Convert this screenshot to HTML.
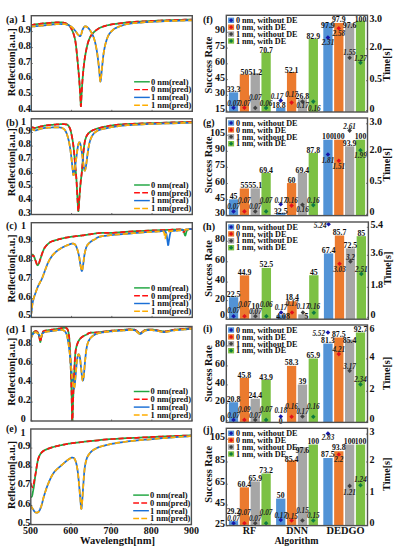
<!DOCTYPE html>
<html><head><meta charset="utf-8"><title>figure</title>
<style>
html,body{margin:0;padding:0;background:#fff;width:398px;height:550px;overflow:hidden}
svg{display:block}
text{font-family:"Liberation Serif",serif}
</style></head><body>
<svg width="398" height="550" viewBox="0 0 398 550">
<rect x="0" y="0" width="398" height="550" fill="#fff"/>
<clipPath id="cl0"><rect x="31.30" y="15.70" width="161.00" height="95.60"/></clipPath>
<g clip-path="url(#cl0)">
<path d="M30.50,25.10 31.08,25.01 31.84,24.90 32.74,24.75 33.75,24.60 34.82,24.44 35.91,24.28 36.99,24.13 38.00,24.00 38.97,23.88 39.94,23.78 40.92,23.67 41.91,23.57 42.90,23.48 43.92,23.39 44.95,23.29 46.00,23.20 47.10,23.10 48.25,23.00 49.43,22.90 50.62,22.81 51.80,22.71 52.94,22.63 54.01,22.56 55.00,22.50 55.91,22.45 56.76,22.42 57.56,22.39 58.31,22.37 59.03,22.36 59.71,22.36 60.37,22.37 61.00,22.40 61.60,22.43 62.16,22.48 62.69,22.53 63.19,22.59 63.66,22.67 64.12,22.76 64.56,22.87 65.00,23.00 65.43,23.15 65.84,23.32 66.24,23.51 66.62,23.72 66.99,23.93 67.34,24.16 67.68,24.38 68.00,24.60 68.30,24.82 68.58,25.04 68.85,25.26 69.09,25.49 69.33,25.73 69.56,25.98 69.78,26.23 70.00,26.50 70.21,26.77 70.40,27.02 70.57,27.28 70.74,27.56 70.92,27.85 71.09,28.19 71.29,28.56 71.50,29.00 71.74,29.48 71.99,30.00 72.25,30.56 72.53,31.16 72.80,31.80 73.07,32.48 73.34,33.21 73.60,34.00 73.85,34.80 74.09,35.60 74.33,36.43 74.57,37.31 74.80,38.28 75.04,39.37 75.27,40.60 75.50,42.00 75.73,43.59 75.96,45.34 76.18,47.24 76.41,49.25 76.63,51.36 76.85,53.53 77.08,55.75 77.30,58.00 77.53,60.32 77.76,62.77 78.00,65.29 78.24,67.88 78.47,70.47 78.69,73.05 78.90,75.57 79.10,78.00 79.28,80.40 79.46,82.82 79.62,85.24 79.77,87.61 79.92,89.91 80.06,92.10 80.18,94.14 80.30,96.00 80.40,97.79 80.49,99.58 80.57,101.29 80.64,102.86 80.70,104.21 80.76,105.27 80.83,105.95 80.90,106.20 80.97,105.94 81.04,105.22 81.11,104.12 81.18,102.74 81.25,101.15 81.32,99.44 81.41,97.69 81.50,96.00 81.60,94.26 81.71,92.36 81.83,90.34 81.96,88.24 82.09,86.11 82.22,84.00 82.36,81.94 82.50,80.00 82.65,78.14 82.79,76.31 82.95,74.52 83.11,72.75 83.27,71.02 83.44,69.31 83.62,67.64 83.80,66.00 83.99,64.40 84.17,62.86 84.36,61.35 84.56,59.88 84.77,58.41 85.00,56.95 85.24,55.49 85.50,54.00 85.78,52.47 86.08,50.89 86.40,49.30 86.73,47.72 87.08,46.17 87.44,44.68 87.81,43.28 88.20,42.00 88.59,40.83 88.97,39.77 89.36,38.78 89.77,37.86 90.21,36.98 90.68,36.14 91.21,35.32 91.80,34.50 92.46,33.68 93.18,32.89 93.96,32.11 94.77,31.37 95.61,30.66 96.47,29.99 97.34,29.37 98.20,28.80 99.06,28.29 99.92,27.83 100.80,27.42 101.69,27.06 102.60,26.72 103.53,26.40 104.50,26.10 105.50,25.80 106.50,25.52 107.48,25.27 108.46,25.04 109.49,24.83 110.57,24.62 111.75,24.42 113.05,24.22 114.50,24.00 116.10,23.77 117.81,23.54 119.64,23.30 121.56,23.06 123.57,22.83 125.66,22.61 127.80,22.40 130.00,22.20 132.28,22.02 134.68,21.85 137.17,21.69 139.72,21.54 142.30,21.39 144.89,21.26 147.47,21.13 150.00,21.00 152.49,20.88 154.96,20.77 157.43,20.67 159.90,20.57 162.38,20.48 164.89,20.38 167.42,20.29 170.00,20.20 172.75,20.10 175.74,20.00 178.83,19.90 181.90,19.80 184.84,19.71 187.51,19.63 189.81,19.56 191.60,19.50 192.84,19.46 193.61,19.44 194.01,19.43 194.15,19.43 194.12,19.44 194.02,19.45 193.95,19.45 194.00,19.45" fill="none" stroke="#1fa640" stroke-width="1.75" stroke-linejoin="round"/>
<path d="M30.50,25.10 31.08,25.01 31.84,24.90 32.74,24.75 33.75,24.60 34.82,24.44 35.91,24.28 36.99,24.13 38.00,24.00 38.97,23.88 39.94,23.78 40.92,23.67 41.91,23.57 42.90,23.48 43.92,23.39 44.95,23.29 46.00,23.20 47.10,23.10 48.25,23.00 49.43,22.90 50.62,22.81 51.80,22.71 52.94,22.63 54.01,22.56 55.00,22.50 55.91,22.45 56.76,22.42 57.56,22.39 58.31,22.37 59.03,22.36 59.71,22.36 60.37,22.37 61.00,22.40 61.60,22.43 62.16,22.48 62.69,22.53 63.19,22.59 63.66,22.67 64.12,22.76 64.56,22.87 65.00,23.00 65.43,23.15 65.84,23.32 66.24,23.51 66.62,23.72 66.99,23.93 67.34,24.16 67.68,24.38 68.00,24.60 68.30,24.82 68.58,25.04 68.85,25.26 69.09,25.49 69.33,25.73 69.56,25.98 69.78,26.23 70.00,26.50 70.21,26.77 70.40,27.02 70.57,27.28 70.74,27.56 70.92,27.85 71.09,28.19 71.29,28.56 71.50,29.00 71.74,29.48 71.99,30.00 72.25,30.56 72.53,31.16 72.80,31.80 73.07,32.48 73.34,33.21 73.60,34.00 73.85,34.80 74.09,35.60 74.33,36.43 74.57,37.31 74.80,38.28 75.04,39.37 75.27,40.60 75.50,42.00 75.73,43.59 75.96,45.34 76.18,47.24 76.41,49.25 76.63,51.36 76.85,53.53 77.08,55.75 77.30,58.00 77.53,60.32 77.76,62.77 78.00,65.29 78.24,67.88 78.47,70.47 78.69,73.05 78.90,75.57 79.10,78.00 79.28,80.40 79.46,82.82 79.62,85.24 79.77,87.61 79.92,89.91 80.06,92.10 80.18,94.14 80.30,96.00 80.40,97.79 80.49,99.58 80.57,101.29 80.64,102.86 80.70,104.21 80.76,105.27 80.83,105.95 80.90,106.20 80.97,105.94 81.04,105.22 81.11,104.12 81.18,102.74 81.25,101.15 81.32,99.44 81.41,97.69 81.50,96.00 81.60,94.26 81.71,92.36 81.83,90.34 81.96,88.24 82.09,86.11 82.22,84.00 82.36,81.94 82.50,80.00 82.65,78.14 82.79,76.31 82.95,74.52 83.11,72.75 83.27,71.02 83.44,69.31 83.62,67.64 83.80,66.00 83.99,64.40 84.17,62.86 84.36,61.35 84.56,59.88 84.77,58.41 85.00,56.95 85.24,55.49 85.50,54.00 85.78,52.47 86.08,50.89 86.40,49.30 86.73,47.72 87.08,46.17 87.44,44.68 87.81,43.28 88.20,42.00 88.59,40.83 88.97,39.77 89.36,38.78 89.77,37.86 90.21,36.98 90.68,36.14 91.21,35.32 91.80,34.50 92.46,33.68 93.18,32.89 93.96,32.11 94.77,31.37 95.61,30.66 96.47,29.99 97.34,29.37 98.20,28.80 99.06,28.29 99.92,27.83 100.80,27.42 101.69,27.06 102.60,26.72 103.53,26.40 104.50,26.10 105.50,25.80 106.50,25.52 107.48,25.27 108.46,25.04 109.49,24.83 110.57,24.62 111.75,24.42 113.05,24.22 114.50,24.00 116.10,23.77 117.81,23.54 119.64,23.30 121.56,23.06 123.57,22.83 125.66,22.61 127.80,22.40 130.00,22.20 132.28,22.02 134.68,21.85 137.17,21.69 139.72,21.54 142.30,21.39 144.89,21.26 147.47,21.13 150.00,21.00 152.49,20.88 154.96,20.77 157.43,20.67 159.90,20.57 162.38,20.48 164.89,20.38 167.42,20.29 170.00,20.20 172.75,20.10 175.74,20.00 178.83,19.90 181.90,19.80 184.84,19.71 187.51,19.63 189.81,19.56 191.60,19.50 192.84,19.46 193.61,19.44 194.01,19.43 194.15,19.43 194.12,19.44 194.02,19.45 193.95,19.45 194.00,19.45" fill="none" stroke="#ff1010" stroke-width="1.75" stroke-linejoin="round" stroke-dasharray="5.2 2.8"/>
<path d="M30.50,26.70 31.08,26.65 31.84,26.58 32.74,26.49 33.75,26.40 34.82,26.30 35.91,26.20 36.99,26.10 38.00,26.00 38.97,25.91 39.94,25.81 40.92,25.71 41.91,25.61 42.90,25.51 43.92,25.41 44.95,25.31 46.00,25.20 47.10,25.09 48.25,24.97 49.43,24.84 50.62,24.72 51.80,24.60 52.94,24.49 54.01,24.38 55.00,24.30 55.90,24.23 56.73,24.17 57.51,24.11 58.25,24.07 58.96,24.03 59.64,24.01 60.32,24.00 61.00,24.00 61.67,24.00 62.32,24.01 62.95,24.02 63.56,24.05 64.17,24.09 64.77,24.16 65.38,24.26 66.00,24.40 66.63,24.57 67.27,24.76 67.92,24.98 68.56,25.22 69.20,25.50 69.82,25.80 70.42,26.13 71.00,26.50 71.55,26.91 72.09,27.37 72.62,27.86 73.12,28.38 73.62,28.92 74.09,29.46 74.55,29.99 75.00,30.50 75.43,31.02 75.84,31.55 76.24,32.10 76.62,32.64 76.99,33.17 77.34,33.66 77.68,34.11 78.00,34.50 78.30,34.85 78.59,35.18 78.85,35.48 79.11,35.74 79.35,35.95 79.57,36.10 79.79,36.19 80.00,36.20 80.19,36.13 80.37,35.99 80.53,35.77 80.68,35.51 80.83,35.19 80.98,34.82 81.13,34.43 81.30,34.00 81.47,33.51 81.64,32.94 81.82,32.30 81.99,31.64 82.18,30.97 82.37,30.32 82.58,29.72 82.80,29.20 83.04,28.73 83.29,28.27 83.55,27.83 83.82,27.42 84.10,27.07 84.39,26.77 84.69,26.54 85.00,26.40 85.32,26.34 85.66,26.37 86.01,26.46 86.37,26.61 86.73,26.81 87.09,27.05 87.45,27.32 87.80,27.60 88.14,27.90 88.47,28.23 88.81,28.60 89.14,29.00 89.47,29.44 89.81,29.92 90.15,30.44 90.50,31.00 90.87,31.62 91.25,32.29 91.65,33.02 92.04,33.77 92.44,34.56 92.81,35.37 93.17,36.18 93.50,37.00 93.80,37.81 94.07,38.61 94.33,39.42 94.58,40.25 94.81,41.11 95.04,42.02 95.27,42.97 95.50,44.00 95.74,45.08 95.97,46.20 96.19,47.35 96.42,48.56 96.64,49.83 96.86,51.15 97.08,52.54 97.30,54.00 97.52,55.56 97.74,57.23 97.96,58.98 98.17,60.78 98.39,62.61 98.60,64.44 98.80,66.25 99.00,68.00 99.19,69.88 99.37,72.00 99.55,74.20 99.72,76.34 99.89,78.29 100.06,79.89 100.23,81.01 100.40,81.50 100.57,81.28 100.75,80.46 100.92,79.17 101.09,77.53 101.26,75.67 101.44,73.71 101.62,71.78 101.80,70.00 101.99,68.26 102.18,66.38 102.38,64.41 102.58,62.41 102.78,60.41 102.98,58.48 103.19,56.66 103.40,55.00 103.61,53.49 103.82,52.09 104.04,50.77 104.26,49.53 104.48,48.35 104.71,47.21 104.95,46.10 105.20,45.00 105.46,43.92 105.74,42.88 106.02,41.87 106.31,40.91 106.60,39.98 106.90,39.11 107.20,38.28 107.50,37.50 107.79,36.79 108.06,36.16 108.33,35.58 108.61,35.04 108.91,34.53 109.23,34.03 109.59,33.53 110.00,33.00 110.45,32.45 110.92,31.91 111.42,31.36 111.95,30.82 112.52,30.29 113.13,29.77 113.79,29.28 114.50,28.80 115.27,28.34 116.11,27.90 116.99,27.47 117.92,27.06 118.87,26.67 119.85,26.29 120.83,25.94 121.80,25.60 122.74,25.29 123.63,25.00 124.51,24.74 125.42,24.49 126.39,24.25 127.45,24.03 128.64,23.81 130.00,23.60 131.52,23.39 133.15,23.20 134.91,23.01 136.76,22.84 138.71,22.67 140.74,22.51 142.84,22.35 145.00,22.20 147.22,22.06 149.49,21.92 151.84,21.79 154.28,21.67 156.80,21.55 159.42,21.43 162.15,21.32 165.00,21.20 168.17,21.08 171.75,20.95 175.56,20.82 179.40,20.69 183.11,20.57 186.50,20.46 189.39,20.37 191.60,20.30 193.07,20.25 193.96,20.23 194.38,20.22 194.46,20.22 194.34,20.23 194.14,20.24 193.98,20.25 194.00,20.25" fill="none" stroke="#1a6fd6" stroke-width="1.75" stroke-linejoin="round"/>
<path d="M30.50,26.70 31.08,26.65 31.84,26.58 32.74,26.49 33.75,26.40 34.82,26.30 35.91,26.20 36.99,26.10 38.00,26.00 38.97,25.91 39.94,25.81 40.92,25.71 41.91,25.61 42.90,25.51 43.92,25.41 44.95,25.31 46.00,25.20 47.10,25.09 48.25,24.97 49.43,24.84 50.62,24.72 51.80,24.60 52.94,24.49 54.01,24.38 55.00,24.30 55.90,24.23 56.73,24.17 57.51,24.11 58.25,24.07 58.96,24.03 59.64,24.01 60.32,24.00 61.00,24.00 61.67,24.00 62.32,24.01 62.95,24.02 63.56,24.05 64.17,24.09 64.77,24.16 65.38,24.26 66.00,24.40 66.63,24.57 67.27,24.76 67.92,24.98 68.56,25.22 69.20,25.50 69.82,25.80 70.42,26.13 71.00,26.50 71.55,26.91 72.09,27.37 72.62,27.86 73.12,28.38 73.62,28.92 74.09,29.46 74.55,29.99 75.00,30.50 75.43,31.02 75.84,31.55 76.24,32.10 76.62,32.64 76.99,33.17 77.34,33.66 77.68,34.11 78.00,34.50 78.30,34.85 78.59,35.18 78.85,35.48 79.11,35.74 79.35,35.95 79.57,36.10 79.79,36.19 80.00,36.20 80.19,36.13 80.37,35.99 80.53,35.77 80.68,35.51 80.83,35.19 80.98,34.82 81.13,34.43 81.30,34.00 81.47,33.51 81.64,32.94 81.82,32.30 81.99,31.64 82.18,30.97 82.37,30.32 82.58,29.72 82.80,29.20 83.04,28.73 83.29,28.27 83.55,27.83 83.82,27.42 84.10,27.07 84.39,26.77 84.69,26.54 85.00,26.40 85.32,26.34 85.66,26.37 86.01,26.46 86.37,26.61 86.73,26.81 87.09,27.05 87.45,27.32 87.80,27.60 88.14,27.90 88.47,28.23 88.81,28.60 89.14,29.00 89.47,29.44 89.81,29.92 90.15,30.44 90.50,31.00 90.87,31.62 91.25,32.29 91.65,33.02 92.04,33.77 92.44,34.56 92.81,35.37 93.17,36.18 93.50,37.00 93.80,37.81 94.07,38.61 94.33,39.42 94.58,40.25 94.81,41.11 95.04,42.02 95.27,42.97 95.50,44.00 95.74,45.08 95.97,46.20 96.19,47.35 96.42,48.56 96.64,49.83 96.86,51.15 97.08,52.54 97.30,54.00 97.52,55.56 97.74,57.23 97.96,58.98 98.17,60.78 98.39,62.61 98.60,64.44 98.80,66.25 99.00,68.00 99.19,69.88 99.37,72.00 99.55,74.20 99.72,76.34 99.89,78.29 100.06,79.89 100.23,81.01 100.40,81.50 100.57,81.28 100.75,80.46 100.92,79.17 101.09,77.53 101.26,75.67 101.44,73.71 101.62,71.78 101.80,70.00 101.99,68.26 102.18,66.38 102.38,64.41 102.58,62.41 102.78,60.41 102.98,58.48 103.19,56.66 103.40,55.00 103.61,53.49 103.82,52.09 104.04,50.77 104.26,49.53 104.48,48.35 104.71,47.21 104.95,46.10 105.20,45.00 105.46,43.92 105.74,42.88 106.02,41.87 106.31,40.91 106.60,39.98 106.90,39.11 107.20,38.28 107.50,37.50 107.79,36.79 108.06,36.16 108.33,35.58 108.61,35.04 108.91,34.53 109.23,34.03 109.59,33.53 110.00,33.00 110.45,32.45 110.92,31.91 111.42,31.36 111.95,30.82 112.52,30.29 113.13,29.77 113.79,29.28 114.50,28.80 115.27,28.34 116.11,27.90 116.99,27.47 117.92,27.06 118.87,26.67 119.85,26.29 120.83,25.94 121.80,25.60 122.74,25.29 123.63,25.00 124.51,24.74 125.42,24.49 126.39,24.25 127.45,24.03 128.64,23.81 130.00,23.60 131.52,23.39 133.15,23.20 134.91,23.01 136.76,22.84 138.71,22.67 140.74,22.51 142.84,22.35 145.00,22.20 147.22,22.06 149.49,21.92 151.84,21.79 154.28,21.67 156.80,21.55 159.42,21.43 162.15,21.32 165.00,21.20 168.17,21.08 171.75,20.95 175.56,20.82 179.40,20.69 183.11,20.57 186.50,20.46 189.39,20.37 191.60,20.30 193.07,20.25 193.96,20.23 194.38,20.22 194.46,20.22 194.34,20.23 194.14,20.24 193.98,20.25 194.00,20.25" fill="none" stroke="#ffad00" stroke-width="1.75" stroke-linejoin="round" stroke-dasharray="5.2 2.8"/>
</g>
<rect x="31.30" y="15.70" width="161.00" height="95.60" fill="none" stroke="#505050" stroke-width="1.40"/>
<line x1="31.30" y1="111.30" x2="31.30" y2="109.80" stroke="#505050" stroke-width="0.8"/>
<line x1="71.55" y1="111.30" x2="71.55" y2="109.80" stroke="#505050" stroke-width="0.8"/>
<line x1="111.80" y1="111.30" x2="111.80" y2="109.80" stroke="#505050" stroke-width="0.8"/>
<line x1="152.05" y1="111.30" x2="152.05" y2="109.80" stroke="#505050" stroke-width="0.8"/>
<line x1="192.30" y1="111.30" x2="192.30" y2="109.80" stroke="#505050" stroke-width="0.8"/>
<text x="26.10" y="22.30" font-size="10.00" text-anchor="end" font-weight="bold" font-style="normal" fill="#111">1</text>
<text x="31.00" y="32.60" font-size="10.30" text-anchor="end" font-weight="bold" font-style="normal" fill="#111">0.9</text>
<line x1="31.30" y1="31.60" x2="32.80" y2="31.60" stroke="#505050" stroke-width="0.8"/>
<text x="31.00" y="48.60" font-size="10.30" text-anchor="end" font-weight="bold" font-style="normal" fill="#111">0.8</text>
<line x1="31.30" y1="47.60" x2="32.80" y2="47.60" stroke="#505050" stroke-width="0.8"/>
<text x="31.00" y="64.50" font-size="10.30" text-anchor="end" font-weight="bold" font-style="normal" fill="#111">0.7</text>
<line x1="31.30" y1="63.50" x2="32.80" y2="63.50" stroke="#505050" stroke-width="0.8"/>
<text x="31.00" y="80.40" font-size="10.30" text-anchor="end" font-weight="bold" font-style="normal" fill="#111">0.6</text>
<line x1="31.30" y1="79.40" x2="32.80" y2="79.40" stroke="#505050" stroke-width="0.8"/>
<text x="31.00" y="96.40" font-size="10.30" text-anchor="end" font-weight="bold" font-style="normal" fill="#111">0.5</text>
<line x1="31.30" y1="95.40" x2="32.80" y2="95.40" stroke="#505050" stroke-width="0.8"/>
<text x="31.00" y="112.30" font-size="10.30" text-anchor="end" font-weight="bold" font-style="normal" fill="#111">0.4</text>
<line x1="31.30" y1="111.30" x2="32.80" y2="111.30" stroke="#505050" stroke-width="0.8"/>
<text x="6.00" y="22.50" font-size="10.00" text-anchor="start" font-weight="bold" font-style="normal" fill="#111">(a)</text>
<text x="15.40" y="62.30" font-size="10.40" text-anchor="middle" font-weight="bold" font-style="normal" fill="#111" transform="rotate(-90 15.40 62.30)" textLength="68.00" lengthAdjust="spacingAndGlyphs">Reflection[a.u.]</text>
<line x1="134.10" y1="81.80" x2="149.80" y2="81.80" stroke="#1fa640" stroke-width="1.45"/>
<text x="150.90" y="84.60" font-size="7.90" text-anchor="start" font-weight="bold" font-style="normal" fill="#111" textLength="37.60" lengthAdjust="spacingAndGlyphs">0 nm(real)</text>
<line x1="134.10" y1="89.60" x2="149.80" y2="89.60" stroke="#ff1010" stroke-width="1.45" stroke-dasharray="5.8 2.3"/>
<text x="150.90" y="92.40" font-size="7.90" text-anchor="start" font-weight="bold" font-style="normal" fill="#111" textLength="40.40" lengthAdjust="spacingAndGlyphs">0 nm(pred)</text>
<line x1="134.10" y1="97.40" x2="149.80" y2="97.40" stroke="#1a6fd6" stroke-width="1.45"/>
<text x="150.90" y="100.20" font-size="7.90" text-anchor="start" font-weight="bold" font-style="normal" fill="#111" textLength="37.60" lengthAdjust="spacingAndGlyphs">1 nm(real)</text>
<line x1="134.10" y1="105.20" x2="149.80" y2="105.20" stroke="#ffad00" stroke-width="1.45" stroke-dasharray="5.8 2.3"/>
<text x="150.90" y="108.00" font-size="7.90" text-anchor="start" font-weight="bold" font-style="normal" fill="#111" textLength="40.40" lengthAdjust="spacingAndGlyphs">1 nm(pred)</text>
<clipPath id="cl1"><rect x="31.30" y="118.80" width="161.00" height="95.70"/></clipPath>
<g clip-path="url(#cl1)">
<path d="M30.50,126.60 30.69,126.68 30.95,126.80 31.25,126.94 31.59,127.09 31.95,127.24 32.32,127.38 32.67,127.51 33.00,127.60 33.31,127.67 33.62,127.72 33.94,127.77 34.25,127.80 34.56,127.82 34.88,127.82 35.19,127.82 35.50,127.80 35.80,127.77 36.07,127.72 36.33,127.66 36.59,127.59 36.88,127.50 37.20,127.41 37.57,127.31 38.00,127.20 38.49,127.08 39.03,126.94 39.60,126.79 40.21,126.62 40.86,126.46 41.54,126.30 42.26,126.14 43.00,126.00 43.77,125.86 44.56,125.73 45.38,125.60 46.23,125.47 47.13,125.35 48.06,125.23 49.05,125.11 50.10,125.00 51.25,124.88 52.53,124.76 53.89,124.65 55.28,124.53 56.65,124.43 57.96,124.33 59.16,124.26 60.20,124.20 61.09,124.17 61.87,124.15 62.56,124.15 63.18,124.16 63.73,124.18 64.25,124.21 64.73,124.25 65.20,124.30 65.64,124.35 66.02,124.39 66.35,124.44 66.65,124.50 66.92,124.58 67.18,124.68 67.44,124.82 67.70,125.00 67.96,125.21 68.21,125.45 68.44,125.72 68.66,126.01 68.88,126.34 69.09,126.69 69.29,127.08 69.50,127.50 69.70,127.91 69.88,128.30 70.05,128.70 70.23,129.14 70.40,129.65 70.58,130.28 70.78,131.05 71.00,132.00 71.24,133.12 71.51,134.39 71.79,135.78 72.08,137.29 72.37,138.91 72.66,140.63 72.94,142.43 73.20,144.30 73.45,146.29 73.69,148.44 73.92,150.70 74.14,153.04 74.36,155.42 74.58,157.82 74.79,160.19 75.00,162.50 75.21,164.76 75.41,167.01 75.61,169.26 75.80,171.51 75.99,173.76 76.17,176.02 76.34,178.30 76.50,180.60 76.65,182.97 76.79,185.44 76.92,187.95 77.04,190.45 77.15,192.90 77.27,195.26 77.38,197.48 77.50,199.50 77.62,201.47 77.73,203.49 77.84,205.47 77.96,207.29 78.07,208.88 78.18,210.12 78.29,210.93 78.40,211.20 78.51,210.84 78.62,209.92 78.72,208.54 78.83,206.83 78.93,204.90 79.05,202.88 79.17,200.87 79.30,199.00 79.44,197.15 79.60,195.16 79.76,193.08 79.92,190.96 80.09,188.84 80.27,186.77 80.43,184.81 80.60,183.00 80.76,181.38 80.92,179.93 81.09,178.58 81.25,177.28 81.41,175.98 81.58,174.62 81.74,173.15 81.90,171.50 82.06,169.64 82.23,167.61 82.39,165.46 82.55,163.25 82.71,161.04 82.88,158.89 83.04,156.86 83.20,155.00 83.36,153.29 83.52,151.64 83.68,150.08 83.84,148.59 84.00,147.19 84.16,145.87 84.33,144.64 84.50,143.50 84.68,142.47 84.85,141.55 85.03,140.74 85.21,140.00 85.40,139.33 85.59,138.70 85.79,138.09 86.00,137.50 86.21,136.94 86.41,136.44 86.61,135.98 86.83,135.56 87.05,135.17 87.30,134.78 87.58,134.40 87.90,134.00 88.25,133.60 88.62,133.20 89.03,132.80 89.45,132.42 89.90,132.04 90.38,131.68 90.88,131.33 91.40,131.00 91.98,130.68 92.63,130.36 93.33,130.05 94.04,129.75 94.74,129.47 95.40,129.22 96.00,128.99 96.50,128.80 96.87,128.66 97.11,128.56 97.28,128.51 97.41,128.47 97.56,128.44 97.78,128.39 98.11,128.32 98.60,128.20 99.25,128.04 100.02,127.85 100.88,127.63 101.81,127.41 102.80,127.17 103.83,126.94 104.87,126.71 105.90,126.50 106.95,126.30 108.03,126.09 109.14,125.89 110.28,125.69 111.44,125.50 112.62,125.32 113.81,125.15 115.00,125.00 116.10,124.87 117.09,124.76 118.02,124.66 119.01,124.57 120.11,124.48 121.42,124.40 123.03,124.30 125.00,124.20 127.29,124.09 129.81,123.97 132.55,123.85 135.53,123.73 138.75,123.61 142.23,123.48 145.98,123.34 150.00,123.20 154.67,123.04 160.15,122.87 166.11,122.68 172.21,122.49 178.14,122.31 183.57,122.14 188.16,122.00 191.60,121.90 193.79,121.83 195.01,121.80 195.48,121.79 195.40,121.79 195.00,121.81 194.49,121.83 194.08,121.85 194.00,121.85" fill="none" stroke="#1fa640" stroke-width="1.75" stroke-linejoin="round"/>
<path d="M30.50,126.60 30.69,126.68 30.95,126.80 31.25,126.94 31.59,127.09 31.95,127.24 32.32,127.38 32.67,127.51 33.00,127.60 33.31,127.67 33.62,127.72 33.94,127.77 34.25,127.80 34.56,127.82 34.88,127.82 35.19,127.82 35.50,127.80 35.80,127.77 36.07,127.72 36.33,127.66 36.59,127.59 36.88,127.50 37.20,127.41 37.57,127.31 38.00,127.20 38.49,127.08 39.03,126.94 39.60,126.79 40.21,126.62 40.86,126.46 41.54,126.30 42.26,126.14 43.00,126.00 43.77,125.86 44.56,125.73 45.38,125.60 46.23,125.47 47.13,125.35 48.06,125.23 49.05,125.11 50.10,125.00 51.25,124.88 52.53,124.76 53.89,124.65 55.28,124.53 56.65,124.43 57.96,124.33 59.16,124.26 60.20,124.20 61.09,124.17 61.87,124.15 62.56,124.15 63.18,124.16 63.73,124.18 64.25,124.21 64.73,124.25 65.20,124.30 65.64,124.35 66.02,124.39 66.35,124.44 66.65,124.50 66.92,124.58 67.18,124.68 67.44,124.82 67.70,125.00 67.96,125.21 68.21,125.45 68.44,125.72 68.66,126.01 68.88,126.34 69.09,126.69 69.29,127.08 69.50,127.50 69.70,127.91 69.88,128.30 70.05,128.70 70.23,129.14 70.40,129.65 70.58,130.28 70.78,131.05 71.00,132.00 71.24,133.12 71.51,134.39 71.79,135.78 72.08,137.29 72.37,138.91 72.66,140.63 72.94,142.43 73.20,144.30 73.45,146.29 73.69,148.44 73.92,150.70 74.14,153.04 74.36,155.42 74.58,157.82 74.79,160.19 75.00,162.50 75.21,164.76 75.41,167.01 75.61,169.26 75.80,171.51 75.99,173.76 76.17,176.02 76.34,178.30 76.50,180.60 76.65,182.97 76.79,185.44 76.92,187.95 77.04,190.45 77.15,192.90 77.27,195.26 77.38,197.48 77.50,199.50 77.62,201.47 77.73,203.49 77.84,205.47 77.96,207.29 78.07,208.88 78.18,210.12 78.29,210.93 78.40,211.20 78.51,210.84 78.62,209.92 78.72,208.54 78.83,206.83 78.93,204.90 79.05,202.88 79.17,200.87 79.30,199.00 79.44,197.15 79.60,195.16 79.76,193.08 79.92,190.96 80.09,188.84 80.27,186.77 80.43,184.81 80.60,183.00 80.76,181.38 80.92,179.93 81.09,178.58 81.25,177.28 81.41,175.98 81.58,174.62 81.74,173.15 81.90,171.50 82.06,169.64 82.23,167.61 82.39,165.46 82.55,163.25 82.71,161.04 82.88,158.89 83.04,156.86 83.20,155.00 83.36,153.29 83.52,151.64 83.68,150.08 83.84,148.59 84.00,147.19 84.16,145.87 84.33,144.64 84.50,143.50 84.68,142.47 84.85,141.55 85.03,140.74 85.21,140.00 85.40,139.33 85.59,138.70 85.79,138.09 86.00,137.50 86.21,136.94 86.41,136.44 86.61,135.98 86.83,135.56 87.05,135.17 87.30,134.78 87.58,134.40 87.90,134.00 88.25,133.60 88.62,133.20 89.03,132.80 89.45,132.42 89.90,132.04 90.38,131.68 90.88,131.33 91.40,131.00 91.98,130.68 92.63,130.36 93.33,130.05 94.04,129.75 94.74,129.47 95.40,129.22 96.00,128.99 96.50,128.80 96.87,128.66 97.11,128.56 97.28,128.51 97.41,128.47 97.56,128.44 97.78,128.39 98.11,128.32 98.60,128.20 99.25,128.04 100.02,127.85 100.88,127.63 101.81,127.41 102.80,127.17 103.83,126.94 104.87,126.71 105.90,126.50 106.95,126.30 108.03,126.09 109.14,125.89 110.28,125.69 111.44,125.50 112.62,125.32 113.81,125.15 115.00,125.00 116.10,124.87 117.09,124.76 118.02,124.66 119.01,124.57 120.11,124.48 121.42,124.40 123.03,124.30 125.00,124.20 127.29,124.09 129.81,123.97 132.55,123.85 135.53,123.73 138.75,123.61 142.23,123.48 145.98,123.34 150.00,123.20 154.67,123.04 160.15,122.87 166.11,122.68 172.21,122.49 178.14,122.31 183.57,122.14 188.16,122.00 191.60,121.90 193.79,121.83 195.01,121.80 195.48,121.79 195.40,121.79 195.00,121.81 194.49,121.83 194.08,121.85 194.00,121.85" fill="none" stroke="#ff1010" stroke-width="1.75" stroke-linejoin="round" stroke-dasharray="5.2 2.8"/>
<path d="M30.50,128.30 30.69,128.40 30.95,128.55 31.25,128.71 31.59,128.90 31.95,129.09 32.32,129.28 32.67,129.45 33.00,129.60 33.31,129.73 33.62,129.87 33.94,130.01 34.25,130.13 34.56,130.24 34.88,130.32 35.19,130.38 35.50,130.40 35.80,130.38 36.09,130.32 36.37,130.23 36.66,130.13 36.95,130.00 37.27,129.87 37.62,129.73 38.00,129.60 38.41,129.47 38.85,129.32 39.30,129.16 39.78,128.99 40.29,128.83 40.82,128.67 41.39,128.53 42.00,128.40 42.65,128.29 43.34,128.18 44.06,128.08 44.81,127.99 45.59,127.91 46.38,127.84 47.19,127.76 48.00,127.70 48.84,127.64 49.73,127.59 50.64,127.54 51.56,127.50 52.48,127.47 53.37,127.44 54.21,127.42 55.00,127.40 55.73,127.39 56.44,127.38 57.11,127.37 57.75,127.38 58.36,127.39 58.94,127.41 59.48,127.45 60.00,127.50 60.47,127.56 60.90,127.63 61.29,127.70 61.66,127.79 62.00,127.90 62.33,128.04 62.66,128.20 63.00,128.40 63.34,128.63 63.67,128.87 64.00,129.15 64.31,129.44 64.62,129.77 64.92,130.14 65.21,130.55 65.50,131.00 65.77,131.49 66.04,132.00 66.29,132.55 66.53,133.14 66.77,133.78 67.01,134.46 67.25,135.20 67.50,136.00 67.75,136.86 68.01,137.76 68.26,138.72 68.52,139.73 68.77,140.79 69.02,141.91 69.26,143.08 69.50,144.30 69.73,145.59 69.95,146.96 70.17,148.38 70.39,149.86 70.60,151.37 70.80,152.90 71.00,154.45 71.20,156.00 71.39,157.61 71.59,159.32 71.77,161.08 71.96,162.84 72.13,164.57 72.30,166.20 72.46,167.69 72.60,169.00 72.73,170.17 72.84,171.27 72.93,172.28 73.02,173.18 73.10,173.94 73.19,174.54 73.29,174.97 73.40,175.20 73.52,175.23 73.64,175.09 73.76,174.77 73.89,174.30 74.02,173.68 74.17,172.91 74.33,172.02 74.50,171.00 74.69,169.79 74.90,168.35 75.13,166.73 75.36,164.99 75.60,163.19 75.84,161.39 76.08,159.64 76.30,158.00 76.52,156.40 76.74,154.74 76.95,153.06 77.17,151.42 77.38,149.85 77.59,148.39 77.80,147.10 78.00,146.00 78.20,145.08 78.39,144.29 78.58,143.64 78.76,143.11 78.95,142.71 79.13,142.44 79.31,142.30 79.50,142.30 79.69,142.44 79.87,142.74 80.06,143.17 80.24,143.73 80.43,144.41 80.62,145.19 80.81,146.05 81.00,147.00 81.20,148.08 81.40,149.33 81.60,150.71 81.81,152.17 82.01,153.67 82.21,155.17 82.41,156.63 82.60,158.00 82.79,159.35 82.97,160.75 83.16,162.16 83.34,163.54 83.51,164.85 83.68,166.06 83.85,167.12 84.00,168.00 84.14,168.72 84.27,169.34 84.39,169.84 84.51,170.23 84.62,170.48 84.74,170.60 84.86,170.57 85.00,170.40 85.15,170.07 85.29,169.57 85.45,168.93 85.61,168.16 85.77,167.27 85.94,166.27 86.12,165.18 86.30,164.00 86.49,162.67 86.69,161.14 86.90,159.48 87.11,157.72 87.32,155.95 87.54,154.19 87.77,152.53 88.00,151.00 88.23,149.58 88.46,148.21 88.68,146.88 88.92,145.59 89.16,144.36 89.42,143.18 89.70,142.06 90.00,141.00 90.32,140.00 90.66,139.06 91.01,138.17 91.38,137.34 91.76,136.56 92.16,135.83 92.57,135.15 93.00,134.50 93.45,133.91 93.93,133.37 94.43,132.88 94.94,132.44 95.46,132.04 95.98,131.67 96.49,131.33 97.00,131.00 97.49,130.71 97.98,130.45 98.46,130.24 98.94,130.05 99.43,129.88 99.93,129.72 100.45,129.56 101.00,129.40 101.55,129.24 102.09,129.10 102.63,128.98 103.19,128.86 103.79,128.73 104.45,128.61 105.18,128.46 106.00,128.30 106.93,128.11 107.95,127.91 109.04,127.68 110.19,127.46 111.38,127.23 112.59,127.00 113.80,126.79 115.00,126.60 116.10,126.43 117.08,126.27 118.02,126.12 119.00,125.98 120.11,125.84 121.42,125.70 123.03,125.56 125.00,125.40 127.29,125.23 129.81,125.06 132.55,124.89 135.53,124.71 138.75,124.53 142.23,124.35 145.98,124.17 150.00,124.00 154.67,123.82 160.15,123.64 166.11,123.45 172.21,123.27 178.14,123.09 183.57,122.93 188.16,122.80 191.60,122.70 193.79,122.63 195.01,122.60 195.48,122.59 195.40,122.59 195.00,122.61 194.49,122.63 194.08,122.65 194.00,122.65" fill="none" stroke="#1a6fd6" stroke-width="1.75" stroke-linejoin="round"/>
<path d="M30.50,128.30 30.69,128.40 30.95,128.55 31.25,128.71 31.59,128.90 31.95,129.09 32.32,129.28 32.67,129.45 33.00,129.60 33.31,129.73 33.62,129.87 33.94,130.01 34.25,130.13 34.56,130.24 34.88,130.32 35.19,130.38 35.50,130.40 35.80,130.38 36.09,130.32 36.37,130.23 36.66,130.13 36.95,130.00 37.27,129.87 37.62,129.73 38.00,129.60 38.41,129.47 38.85,129.32 39.30,129.16 39.78,128.99 40.29,128.83 40.82,128.67 41.39,128.53 42.00,128.40 42.65,128.29 43.34,128.18 44.06,128.08 44.81,127.99 45.59,127.91 46.38,127.84 47.19,127.76 48.00,127.70 48.84,127.64 49.73,127.59 50.64,127.54 51.56,127.50 52.48,127.47 53.37,127.44 54.21,127.42 55.00,127.40 55.73,127.39 56.44,127.38 57.11,127.37 57.75,127.38 58.36,127.39 58.94,127.41 59.48,127.45 60.00,127.50 60.47,127.56 60.90,127.63 61.29,127.70 61.66,127.79 62.00,127.90 62.33,128.04 62.66,128.20 63.00,128.40 63.34,128.63 63.67,128.87 64.00,129.15 64.31,129.44 64.62,129.77 64.92,130.14 65.21,130.55 65.50,131.00 65.77,131.49 66.04,132.00 66.29,132.55 66.53,133.14 66.77,133.78 67.01,134.46 67.25,135.20 67.50,136.00 67.75,136.86 68.01,137.76 68.26,138.72 68.52,139.73 68.77,140.79 69.02,141.91 69.26,143.08 69.50,144.30 69.73,145.59 69.95,146.96 70.17,148.38 70.39,149.86 70.60,151.37 70.80,152.90 71.00,154.45 71.20,156.00 71.39,157.61 71.59,159.32 71.77,161.08 71.96,162.84 72.13,164.57 72.30,166.20 72.46,167.69 72.60,169.00 72.73,170.17 72.84,171.27 72.93,172.28 73.02,173.18 73.10,173.94 73.19,174.54 73.29,174.97 73.40,175.20 73.52,175.23 73.64,175.09 73.76,174.77 73.89,174.30 74.02,173.68 74.17,172.91 74.33,172.02 74.50,171.00 74.69,169.79 74.90,168.35 75.13,166.73 75.36,164.99 75.60,163.19 75.84,161.39 76.08,159.64 76.30,158.00 76.52,156.40 76.74,154.74 76.95,153.06 77.17,151.42 77.38,149.85 77.59,148.39 77.80,147.10 78.00,146.00 78.20,145.08 78.39,144.29 78.58,143.64 78.76,143.11 78.95,142.71 79.13,142.44 79.31,142.30 79.50,142.30 79.69,142.44 79.87,142.74 80.06,143.17 80.24,143.73 80.43,144.41 80.62,145.19 80.81,146.05 81.00,147.00 81.20,148.08 81.40,149.33 81.60,150.71 81.81,152.17 82.01,153.67 82.21,155.17 82.41,156.63 82.60,158.00 82.79,159.35 82.97,160.75 83.16,162.16 83.34,163.54 83.51,164.85 83.68,166.06 83.85,167.12 84.00,168.00 84.14,168.72 84.27,169.34 84.39,169.84 84.51,170.23 84.62,170.48 84.74,170.60 84.86,170.57 85.00,170.40 85.15,170.07 85.29,169.57 85.45,168.93 85.61,168.16 85.77,167.27 85.94,166.27 86.12,165.18 86.30,164.00 86.49,162.67 86.69,161.14 86.90,159.48 87.11,157.72 87.32,155.95 87.54,154.19 87.77,152.53 88.00,151.00 88.23,149.58 88.46,148.21 88.68,146.88 88.92,145.59 89.16,144.36 89.42,143.18 89.70,142.06 90.00,141.00 90.32,140.00 90.66,139.06 91.01,138.17 91.38,137.34 91.76,136.56 92.16,135.83 92.57,135.15 93.00,134.50 93.45,133.91 93.93,133.37 94.43,132.88 94.94,132.44 95.46,132.04 95.98,131.67 96.49,131.33 97.00,131.00 97.49,130.71 97.98,130.45 98.46,130.24 98.94,130.05 99.43,129.88 99.93,129.72 100.45,129.56 101.00,129.40 101.55,129.24 102.09,129.10 102.63,128.98 103.19,128.86 103.79,128.73 104.45,128.61 105.18,128.46 106.00,128.30 106.93,128.11 107.95,127.91 109.04,127.68 110.19,127.46 111.38,127.23 112.59,127.00 113.80,126.79 115.00,126.60 116.10,126.43 117.08,126.27 118.02,126.12 119.00,125.98 120.11,125.84 121.42,125.70 123.03,125.56 125.00,125.40 127.29,125.23 129.81,125.06 132.55,124.89 135.53,124.71 138.75,124.53 142.23,124.35 145.98,124.17 150.00,124.00 154.67,123.82 160.15,123.64 166.11,123.45 172.21,123.27 178.14,123.09 183.57,122.93 188.16,122.80 191.60,122.70 193.79,122.63 195.01,122.60 195.48,122.59 195.40,122.59 195.00,122.61 194.49,122.63 194.08,122.65 194.00,122.65" fill="none" stroke="#ffad00" stroke-width="1.75" stroke-linejoin="round" stroke-dasharray="5.2 2.8"/>
</g>
<rect x="31.30" y="118.80" width="161.00" height="95.70" fill="none" stroke="#505050" stroke-width="1.40"/>
<line x1="31.30" y1="214.50" x2="31.30" y2="213.00" stroke="#505050" stroke-width="0.8"/>
<line x1="71.55" y1="214.50" x2="71.55" y2="213.00" stroke="#505050" stroke-width="0.8"/>
<line x1="111.80" y1="214.50" x2="111.80" y2="213.00" stroke="#505050" stroke-width="0.8"/>
<line x1="152.05" y1="214.50" x2="152.05" y2="213.00" stroke="#505050" stroke-width="0.8"/>
<line x1="192.30" y1="214.50" x2="192.30" y2="213.00" stroke="#505050" stroke-width="0.8"/>
<text x="26.10" y="125.40" font-size="10.00" text-anchor="end" font-weight="bold" font-style="normal" fill="#111">1</text>
<text x="31.00" y="133.50" font-size="10.30" text-anchor="end" font-weight="bold" font-style="normal" fill="#111">0.9</text>
<line x1="31.30" y1="132.50" x2="32.80" y2="132.50" stroke="#505050" stroke-width="0.8"/>
<text x="31.00" y="147.10" font-size="10.30" text-anchor="end" font-weight="bold" font-style="normal" fill="#111">0.8</text>
<line x1="31.30" y1="146.10" x2="32.80" y2="146.10" stroke="#505050" stroke-width="0.8"/>
<text x="31.00" y="160.80" font-size="10.30" text-anchor="end" font-weight="bold" font-style="normal" fill="#111">0.7</text>
<line x1="31.30" y1="159.80" x2="32.80" y2="159.80" stroke="#505050" stroke-width="0.8"/>
<text x="31.00" y="174.50" font-size="10.30" text-anchor="end" font-weight="bold" font-style="normal" fill="#111">0.6</text>
<line x1="31.30" y1="173.50" x2="32.80" y2="173.50" stroke="#505050" stroke-width="0.8"/>
<text x="31.00" y="188.20" font-size="10.30" text-anchor="end" font-weight="bold" font-style="normal" fill="#111">0.5</text>
<line x1="31.30" y1="187.20" x2="32.80" y2="187.20" stroke="#505050" stroke-width="0.8"/>
<text x="31.00" y="201.80" font-size="10.30" text-anchor="end" font-weight="bold" font-style="normal" fill="#111">0.4</text>
<line x1="31.30" y1="200.80" x2="32.80" y2="200.80" stroke="#505050" stroke-width="0.8"/>
<text x="31.00" y="215.50" font-size="10.30" text-anchor="end" font-weight="bold" font-style="normal" fill="#111">0.3</text>
<line x1="31.30" y1="214.50" x2="32.80" y2="214.50" stroke="#505050" stroke-width="0.8"/>
<text x="6.00" y="126.00" font-size="10.00" text-anchor="start" font-weight="bold" font-style="normal" fill="#111">(b)</text>
<text x="15.40" y="162.20" font-size="10.40" text-anchor="middle" font-weight="bold" font-style="normal" fill="#111" transform="rotate(-90 15.40 162.20)" textLength="68.00" lengthAdjust="spacingAndGlyphs">Reflection[a.u.]</text>
<line x1="134.10" y1="185.00" x2="149.80" y2="185.00" stroke="#1fa640" stroke-width="1.45"/>
<text x="150.90" y="187.80" font-size="7.90" text-anchor="start" font-weight="bold" font-style="normal" fill="#111" textLength="37.60" lengthAdjust="spacingAndGlyphs">0 nm(real)</text>
<line x1="134.10" y1="192.80" x2="149.80" y2="192.80" stroke="#ff1010" stroke-width="1.45" stroke-dasharray="5.8 2.3"/>
<text x="150.90" y="195.60" font-size="7.90" text-anchor="start" font-weight="bold" font-style="normal" fill="#111" textLength="40.40" lengthAdjust="spacingAndGlyphs">0 nm(pred)</text>
<line x1="134.10" y1="200.60" x2="149.80" y2="200.60" stroke="#1a6fd6" stroke-width="1.45"/>
<text x="150.90" y="203.40" font-size="7.90" text-anchor="start" font-weight="bold" font-style="normal" fill="#111" textLength="37.60" lengthAdjust="spacingAndGlyphs">1 nm(real)</text>
<line x1="134.10" y1="208.40" x2="149.80" y2="208.40" stroke="#ffad00" stroke-width="1.45" stroke-dasharray="5.8 2.3"/>
<text x="150.90" y="211.20" font-size="7.90" text-anchor="start" font-weight="bold" font-style="normal" fill="#111" textLength="40.40" lengthAdjust="spacingAndGlyphs">1 nm(pred)</text>
<clipPath id="cl2"><rect x="31.30" y="222.70" width="161.00" height="94.70"/></clipPath>
<g clip-path="url(#cl2)">
<path d="M30.50,255.80 30.57,255.76 30.65,255.71 30.76,255.66 30.88,255.59 31.00,255.52 31.13,255.45 31.27,255.38 31.40,255.30 31.53,255.20 31.67,255.08 31.82,254.94 31.97,254.80 32.12,254.68 32.28,254.60 32.44,254.56 32.60,254.60 32.76,254.70 32.93,254.84 33.11,255.03 33.28,255.26 33.46,255.52 33.64,255.82 33.82,256.14 34.00,256.50 34.18,256.89 34.36,257.34 34.54,257.82 34.72,258.33 34.90,258.86 35.09,259.40 35.29,259.95 35.50,260.50 35.72,261.10 35.95,261.79 36.20,262.51 36.44,263.24 36.69,263.91 36.94,264.49 37.17,264.94 37.40,265.20 37.61,265.27 37.82,265.20 38.02,265.00 38.21,264.71 38.41,264.33 38.60,263.91 38.80,263.46 39.00,263.00 39.21,262.51 39.42,261.94 39.63,261.33 39.85,260.67 40.07,259.99 40.28,259.31 40.49,258.64 40.70,258.00 40.90,257.38 41.09,256.77 41.28,256.16 41.47,255.56 41.66,254.95 41.86,254.34 42.07,253.72 42.30,253.10 42.54,252.46 42.79,251.81 43.04,251.14 43.31,250.47 43.58,249.82 43.87,249.18 44.18,248.57 44.50,248.00 44.84,247.46 45.20,246.95 45.58,246.46 45.98,245.99 46.38,245.54 46.78,245.11 47.19,244.70 47.60,244.30 48.00,243.93 48.38,243.57 48.77,243.24 49.16,242.93 49.57,242.63 50.00,242.35 50.48,242.07 51.00,241.80 51.58,241.54 52.20,241.29 52.87,241.06 53.56,240.84 54.27,240.62 54.99,240.41 55.70,240.21 56.40,240.00 57.09,239.80 57.78,239.60 58.47,239.40 59.16,239.21 59.86,239.03 60.57,238.85 61.28,238.67 62.00,238.50 62.73,238.33 63.47,238.17 64.22,238.01 64.97,237.86 65.73,237.71 66.49,237.57 67.25,237.43 68.00,237.30 68.74,237.17 69.47,237.05 70.19,236.94 70.91,236.83 71.65,236.72 72.40,236.61 73.18,236.51 74.00,236.40 74.85,236.30 75.72,236.20 76.62,236.11 77.54,236.03 78.48,235.93 79.43,235.83 80.41,235.72 81.40,235.60 82.41,235.46 83.43,235.31 84.48,235.15 85.54,234.98 86.62,234.81 87.72,234.64 88.85,234.47 90.00,234.30 91.16,234.13 92.33,233.95 93.52,233.76 94.72,233.58 95.97,233.41 97.26,233.25 98.60,233.11 100.00,233.00 101.39,232.93 102.71,232.91 104.04,232.91 105.44,232.93 106.97,232.94 108.70,232.94 110.68,232.89 113.00,232.80 115.68,232.65 118.70,232.45 121.97,232.22 125.44,231.96 129.04,231.70 132.71,231.45 136.39,231.21 140.00,231.00 143.73,230.81 147.71,230.63 151.82,230.46 155.94,230.30 159.94,230.15 163.70,230.02 167.09,229.90 170.00,229.80 172.43,229.71 174.51,229.63 176.27,229.56 177.77,229.51 179.05,229.48 180.15,229.48 181.12,229.52 182.00,229.60 182.71,229.72 183.15,229.88 183.40,230.07 183.51,230.29 183.53,230.54 183.53,230.83 183.57,231.15 183.70,231.50 183.90,231.96 184.09,232.55 184.28,233.22 184.46,233.90 184.65,234.53 184.83,235.05 185.01,235.39 185.20,235.50 185.39,235.33 185.57,234.91 185.75,234.31 185.93,233.61 186.12,232.86 186.30,232.13 186.50,231.49 186.70,231.00 186.90,230.65 187.10,230.35 187.30,230.10 187.50,229.90 187.72,229.73 187.95,229.58 188.21,229.44 188.50,229.30 188.83,229.18 189.20,229.08 189.60,229.00 190.01,228.95 190.43,228.90 190.84,228.87 191.24,228.83 191.60,228.80 191.95,228.77 192.31,228.76 192.66,228.75 192.99,228.74 193.31,228.75 193.59,228.75 193.82,228.75 194.00,228.75" fill="none" stroke="#1fa640" stroke-width="1.75" stroke-linejoin="round"/>
<path d="M30.50,257.00 30.57,256.97 30.65,256.94 30.76,256.91 30.88,256.87 31.00,256.82 31.13,256.76 31.27,256.69 31.40,256.60 31.53,256.48 31.67,256.33 31.82,256.15 31.97,255.96 32.12,255.79 32.28,255.64 32.44,255.54 32.60,255.50 32.76,255.50 32.93,255.53 33.11,255.59 33.28,255.68 33.46,255.81 33.64,255.99 33.82,256.22 34.00,256.50 34.18,256.85 34.36,257.27 34.54,257.75 34.72,258.27 34.90,258.82 35.09,259.38 35.29,259.95 35.50,260.50 35.72,261.10 35.95,261.79 36.20,262.51 36.44,263.24 36.69,263.91 36.94,264.49 37.17,264.94 37.40,265.20 37.61,265.27 37.82,265.20 38.02,265.00 38.21,264.71 38.41,264.33 38.60,263.91 38.80,263.46 39.00,263.00 39.21,262.51 39.42,261.94 39.63,261.33 39.85,260.67 40.07,259.99 40.28,259.31 40.49,258.64 40.70,258.00 40.90,257.38 41.09,256.77 41.28,256.16 41.47,255.56 41.66,254.95 41.86,254.34 42.07,253.72 42.30,253.10 42.54,252.46 42.79,251.81 43.04,251.14 43.31,250.47 43.58,249.82 43.87,249.18 44.18,248.57 44.50,248.00 44.84,247.46 45.20,246.95 45.58,246.46 45.98,245.99 46.38,245.54 46.78,245.11 47.19,244.70 47.60,244.30 48.00,243.93 48.38,243.57 48.77,243.24 49.16,242.93 49.57,242.63 50.00,242.35 50.48,242.07 51.00,241.80 51.58,241.54 52.20,241.29 52.87,241.06 53.56,240.84 54.27,240.62 54.99,240.41 55.70,240.21 56.40,240.00 57.09,239.80 57.78,239.60 58.47,239.40 59.16,239.21 59.86,239.03 60.57,238.85 61.28,238.67 62.00,238.50 62.73,238.33 63.47,238.17 64.22,238.01 64.97,237.86 65.73,237.71 66.49,237.57 67.25,237.43 68.00,237.30 68.74,237.17 69.47,237.05 70.19,236.94 70.91,236.83 71.65,236.72 72.40,236.61 73.18,236.51 74.00,236.40 74.85,236.30 75.72,236.20 76.62,236.11 77.54,236.03 78.48,235.93 79.43,235.83 80.41,235.72 81.40,235.60 82.41,235.46 83.43,235.31 84.48,235.15 85.54,234.98 86.62,234.81 87.72,234.64 88.85,234.47 90.00,234.30 91.16,234.13 92.33,233.95 93.52,233.76 94.72,233.58 95.97,233.41 97.26,233.25 98.60,233.11 100.00,233.00 101.39,232.93 102.71,232.91 104.04,232.91 105.44,232.93 106.97,232.94 108.70,232.94 110.68,232.89 113.00,232.80 115.68,232.65 118.70,232.45 121.97,232.22 125.44,231.96 129.04,231.70 132.71,231.45 136.39,231.21 140.00,231.00 143.74,230.82 147.73,230.64 151.87,230.47 156.00,230.31 160.01,230.16 163.77,230.02 167.14,229.90 170.00,229.80 172.34,229.70 174.28,229.60 175.89,229.50 177.21,229.42 178.33,229.37 179.29,229.36 180.16,229.40 181.00,229.50 181.73,229.71 182.25,230.05 182.60,230.45 182.84,230.89 183.01,231.31 183.16,231.66 183.34,231.91 183.60,232.00 183.89,231.91 184.14,231.68 184.37,231.35 184.61,230.95 184.87,230.53 185.18,230.12 185.55,229.76 186.00,229.50 186.57,229.32 187.25,229.18 188.01,229.08 188.80,229.00 189.59,228.94 190.35,228.89 191.03,228.84 191.60,228.80 192.07,228.76 192.48,228.74 192.84,228.73 193.15,228.73 193.42,228.74 193.64,228.75 193.84,228.75 194.00,228.75" fill="none" stroke="#ff1010" stroke-width="1.75" stroke-linejoin="round" stroke-dasharray="5.2 2.8"/>
<path d="M30.50,316.00 30.57,315.80 30.66,315.58 30.77,315.31 30.89,315.00 31.02,314.62 31.15,314.17 31.28,313.63 31.40,313.00 31.51,312.23 31.62,311.30 31.72,310.28 31.83,309.19 31.94,308.07 32.05,306.98 32.17,305.94 32.30,305.00 32.43,304.15 32.56,303.36 32.69,302.60 32.83,301.88 32.98,301.16 33.14,300.45 33.31,299.74 33.50,299.00 33.71,298.25 33.93,297.51 34.17,296.77 34.42,296.03 34.69,295.28 34.95,294.53 35.23,293.77 35.50,293.00 35.78,292.20 36.08,291.37 36.38,290.53 36.69,289.68 37.00,288.85 37.31,288.05 37.61,287.29 37.90,286.60 38.18,285.98 38.44,285.43 38.70,284.92 38.96,284.44 39.21,283.98 39.47,283.51 39.73,283.03 40.00,282.50 40.28,281.96 40.55,281.43 40.83,280.90 41.11,280.35 41.40,279.78 41.69,279.17 41.99,278.52 42.30,277.80 42.62,277.01 42.95,276.15 43.29,275.23 43.63,274.28 43.98,273.32 44.32,272.35 44.66,271.41 45.00,270.50 45.33,269.61 45.66,268.72 45.99,267.82 46.32,266.94 46.64,266.07 46.97,265.24 47.29,264.45 47.60,263.70 47.91,263.01 48.20,262.36 48.49,261.76 48.78,261.18 49.07,260.63 49.37,260.08 49.68,259.54 50.00,259.00 50.33,258.46 50.66,257.93 51.00,257.41 51.34,256.90 51.70,256.40 52.08,255.90 52.48,255.40 52.90,254.90 53.35,254.40 53.83,253.89 54.32,253.39 54.84,252.89 55.37,252.40 55.90,251.91 56.45,251.45 57.00,251.00 57.56,250.57 58.14,250.15 58.74,249.73 59.34,249.34 59.94,248.95 60.54,248.59 61.13,248.23 61.70,247.90 62.26,247.59 62.81,247.29 63.35,247.02 63.89,246.76 64.43,246.51 64.96,246.27 65.48,246.03 66.00,245.80 66.52,245.57 67.06,245.34 67.59,245.12 68.11,244.91 68.62,244.70 69.11,244.52 69.57,244.35 70.00,244.20 70.38,244.07 70.73,243.94 71.05,243.84 71.34,243.74 71.63,243.67 71.91,243.62 72.20,243.60 72.50,243.60 72.82,243.62 73.14,243.65 73.46,243.69 73.78,243.76 74.10,243.87 74.41,244.02 74.71,244.23 75.00,244.50 75.27,244.83 75.54,245.20 75.79,245.62 76.03,246.09 76.27,246.61 76.51,247.18 76.75,247.81 77.00,248.50 77.25,249.25 77.51,250.07 77.77,250.95 78.02,251.88 78.28,252.85 78.53,253.87 78.77,254.92 79.00,256.00 79.22,257.16 79.44,258.44 79.64,259.79 79.84,261.16 80.04,262.51 80.23,263.79 80.42,264.97 80.60,266.00 80.78,266.94 80.95,267.86 81.11,268.72 81.27,269.50 81.43,270.15 81.59,270.64 81.74,270.94 81.90,271.00 82.05,270.81 82.20,270.39 82.34,269.78 82.49,269.00 82.63,268.10 82.78,267.11 82.94,266.06 83.10,265.00 83.27,263.84 83.45,262.51 83.63,261.07 83.81,259.56 84.00,258.05 84.20,256.59 84.40,255.22 84.60,254.00 84.81,252.90 85.03,251.87 85.26,250.89 85.49,249.98 85.73,249.13 85.96,248.35 86.18,247.64 86.40,247.00 86.60,246.46 86.78,246.02 86.95,245.68 87.13,245.39 87.31,245.13 87.51,244.88 87.73,244.61 88.00,244.30 88.30,243.95 88.63,243.60 88.98,243.24 89.35,242.88 89.74,242.52 90.15,242.17 90.57,241.83 91.00,241.50 91.45,241.19 91.91,240.90 92.38,240.61 92.88,240.34 93.38,240.06 93.91,239.78 94.45,239.50 95.00,239.20 95.52,238.88 95.99,238.55 96.45,238.20 96.94,237.86 97.50,237.51 98.16,237.19 98.99,236.88 100.00,236.60 101.15,236.36 102.36,236.15 103.67,235.96 105.12,235.78 106.75,235.61 108.58,235.43 110.65,235.23 113.00,235.00 115.75,234.74 118.93,234.45 122.41,234.15 126.06,233.84 129.77,233.53 133.41,233.23 136.86,232.95 140.00,232.70 142.94,232.47 145.85,232.25 148.68,232.04 151.39,231.85 153.92,231.68 156.23,231.52 158.28,231.40 160.00,231.30 161.35,231.22 162.34,231.16 163.05,231.12 163.55,231.10 163.90,231.11 164.18,231.16 164.46,231.26 164.80,231.40 165.16,231.57 165.43,231.75 165.65,231.95 165.83,232.21 165.97,232.52 166.10,232.91 166.24,233.40 166.40,234.00 166.57,234.77 166.74,235.73 166.91,236.82 167.06,237.96 167.21,239.11 167.35,240.21 167.48,241.19 167.60,242.00 167.70,242.68 167.79,243.31 167.86,243.88 167.93,244.36 167.99,244.75 168.06,245.03 168.12,245.19 168.20,245.20 168.28,245.05 168.35,244.75 168.43,244.31 168.51,243.77 168.59,243.14 168.68,242.46 168.78,241.73 168.90,241.00 169.03,240.18 169.18,239.23 169.34,238.20 169.51,237.12 169.69,236.07 169.86,235.08 170.03,234.21 170.20,233.50 170.31,232.96 170.36,232.55 170.37,232.23 170.40,231.99 170.49,231.80 170.67,231.64 170.99,231.48 171.50,231.30 172.20,231.12 173.05,230.97 174.02,230.85 175.11,230.74 176.27,230.64 177.49,230.54 178.74,230.43 180.00,230.30 181.36,230.14 182.90,229.97 184.53,229.78 186.18,229.59 187.79,229.41 189.27,229.24 190.57,229.10 191.60,229.00 192.36,228.93 192.90,228.90 193.28,228.89 193.52,228.89 193.68,228.91 193.78,228.93 193.88,228.95 194.00,228.95" fill="none" stroke="#1a6fd6" stroke-width="1.75" stroke-linejoin="round"/>
<path d="M30.50,316.00 30.57,315.80 30.66,315.58 30.77,315.31 30.89,315.00 31.02,314.62 31.15,314.17 31.28,313.63 31.40,313.00 31.51,312.23 31.62,311.30 31.72,310.28 31.83,309.19 31.94,308.07 32.05,306.98 32.17,305.94 32.30,305.00 32.43,304.15 32.56,303.36 32.69,302.60 32.83,301.88 32.98,301.16 33.14,300.45 33.31,299.74 33.50,299.00 33.71,298.25 33.93,297.51 34.17,296.77 34.42,296.03 34.69,295.28 34.95,294.53 35.23,293.77 35.50,293.00 35.78,292.20 36.08,291.37 36.38,290.53 36.69,289.68 37.00,288.85 37.31,288.05 37.61,287.29 37.90,286.60 38.18,285.98 38.44,285.43 38.70,284.92 38.96,284.44 39.21,283.98 39.47,283.51 39.73,283.03 40.00,282.50 40.28,281.96 40.55,281.43 40.83,280.90 41.11,280.35 41.40,279.78 41.69,279.17 41.99,278.52 42.30,277.80 42.62,277.01 42.95,276.15 43.29,275.23 43.63,274.28 43.98,273.32 44.32,272.35 44.66,271.41 45.00,270.50 45.33,269.61 45.66,268.72 45.99,267.82 46.32,266.94 46.64,266.07 46.97,265.24 47.29,264.45 47.60,263.70 47.91,263.01 48.20,262.36 48.49,261.76 48.78,261.18 49.07,260.63 49.37,260.08 49.68,259.54 50.00,259.00 50.33,258.46 50.66,257.93 51.00,257.41 51.34,256.90 51.70,256.40 52.08,255.90 52.48,255.40 52.90,254.90 53.35,254.40 53.83,253.89 54.32,253.39 54.84,252.89 55.37,252.40 55.90,251.91 56.45,251.45 57.00,251.00 57.56,250.57 58.14,250.15 58.74,249.73 59.34,249.34 59.94,248.95 60.54,248.59 61.13,248.23 61.70,247.90 62.26,247.59 62.81,247.29 63.35,247.02 63.89,246.76 64.43,246.51 64.96,246.27 65.48,246.03 66.00,245.80 66.52,245.57 67.06,245.34 67.59,245.12 68.11,244.91 68.62,244.70 69.11,244.52 69.57,244.35 70.00,244.20 70.38,244.07 70.73,243.94 71.05,243.84 71.34,243.74 71.63,243.67 71.91,243.62 72.20,243.60 72.50,243.60 72.82,243.62 73.14,243.65 73.46,243.69 73.78,243.76 74.10,243.87 74.41,244.02 74.71,244.23 75.00,244.50 75.27,244.83 75.54,245.20 75.79,245.62 76.03,246.09 76.27,246.61 76.51,247.18 76.75,247.81 77.00,248.50 77.25,249.25 77.51,250.07 77.77,250.95 78.02,251.88 78.28,252.85 78.53,253.87 78.77,254.92 79.00,256.00 79.22,257.16 79.44,258.44 79.64,259.79 79.84,261.16 80.04,262.51 80.23,263.79 80.42,264.97 80.60,266.00 80.78,266.94 80.95,267.86 81.11,268.72 81.27,269.50 81.43,270.15 81.59,270.64 81.74,270.94 81.90,271.00 82.05,270.81 82.20,270.39 82.34,269.78 82.49,269.00 82.63,268.10 82.78,267.11 82.94,266.06 83.10,265.00 83.27,263.84 83.45,262.51 83.63,261.07 83.81,259.56 84.00,258.05 84.20,256.59 84.40,255.22 84.60,254.00 84.81,252.90 85.03,251.87 85.26,250.89 85.49,249.98 85.73,249.13 85.96,248.35 86.18,247.64 86.40,247.00 86.60,246.46 86.78,246.02 86.95,245.68 87.13,245.39 87.31,245.13 87.51,244.88 87.73,244.61 88.00,244.30 88.30,243.95 88.63,243.60 88.98,243.24 89.35,242.88 89.74,242.52 90.15,242.17 90.57,241.83 91.00,241.50 91.45,241.19 91.91,240.90 92.38,240.61 92.88,240.34 93.38,240.06 93.91,239.78 94.45,239.50 95.00,239.20 95.52,238.88 95.99,238.55 96.45,238.20 96.94,237.86 97.50,237.51 98.16,237.19 98.99,236.88 100.00,236.60 101.15,236.36 102.36,236.15 103.67,235.96 105.12,235.78 106.75,235.61 108.58,235.43 110.65,235.23 113.00,235.00 115.75,234.74 118.93,234.45 122.41,234.15 126.06,233.84 129.77,233.53 133.41,233.23 136.86,232.95 140.00,232.70 142.95,232.47 145.89,232.25 148.75,232.04 151.49,231.85 154.04,231.68 156.35,231.52 158.35,231.40 160.00,231.30 161.22,231.23 162.03,231.17 162.52,231.14 162.78,231.13 162.89,231.15 162.94,231.20 163.02,231.28 163.20,231.40 163.44,231.55 163.63,231.72 163.78,231.92 163.90,232.15 164.00,232.42 164.10,232.73 164.19,233.09 164.30,233.50 164.41,234.04 164.52,234.73 164.62,235.52 164.71,236.33 164.81,237.08 164.90,237.73 165.00,238.19 165.10,238.40 165.21,238.32 165.31,238.01 165.42,237.52 165.52,236.91 165.64,236.25 165.75,235.58 165.87,234.98 166.00,234.50 166.13,234.11 166.25,233.73 166.38,233.38 166.51,233.05 166.66,232.74 166.82,232.47 167.00,232.22 167.20,232.00 167.38,231.83 167.51,231.71 167.62,231.62 167.77,231.56 167.99,231.51 168.32,231.45 168.81,231.39 169.50,231.30 170.41,231.19 171.52,231.08 172.79,230.96 174.17,230.84 175.62,230.71 177.11,230.58 178.58,230.44 180.00,230.30 181.46,230.14 183.04,229.97 184.67,229.78 186.31,229.59 187.88,229.41 189.32,229.24 190.58,229.10 191.60,229.00 192.36,228.93 192.90,228.90 193.28,228.89 193.52,228.89 193.68,228.91 193.78,228.93 193.88,228.95 194.00,228.95" fill="none" stroke="#ffad00" stroke-width="1.75" stroke-linejoin="round" stroke-dasharray="5.2 2.8"/>
</g>
<rect x="31.30" y="222.70" width="161.00" height="94.70" fill="none" stroke="#505050" stroke-width="1.40"/>
<line x1="31.30" y1="317.40" x2="31.30" y2="315.90" stroke="#505050" stroke-width="0.8"/>
<line x1="71.55" y1="317.40" x2="71.55" y2="315.90" stroke="#505050" stroke-width="0.8"/>
<line x1="111.80" y1="317.40" x2="111.80" y2="315.90" stroke="#505050" stroke-width="0.8"/>
<line x1="152.05" y1="317.40" x2="152.05" y2="315.90" stroke="#505050" stroke-width="0.8"/>
<line x1="192.30" y1="317.40" x2="192.30" y2="315.90" stroke="#505050" stroke-width="0.8"/>
<text x="26.10" y="229.00" font-size="10.00" text-anchor="end" font-weight="bold" font-style="normal" fill="#111">1</text>
<text x="31.00" y="242.60" font-size="10.30" text-anchor="end" font-weight="bold" font-style="normal" fill="#111">0.9</text>
<line x1="31.30" y1="241.60" x2="32.80" y2="241.60" stroke="#505050" stroke-width="0.8"/>
<text x="31.00" y="261.60" font-size="10.30" text-anchor="end" font-weight="bold" font-style="normal" fill="#111">0.8</text>
<line x1="31.30" y1="260.60" x2="32.80" y2="260.60" stroke="#505050" stroke-width="0.8"/>
<text x="31.00" y="280.50" font-size="10.30" text-anchor="end" font-weight="bold" font-style="normal" fill="#111">0.7</text>
<line x1="31.30" y1="279.50" x2="32.80" y2="279.50" stroke="#505050" stroke-width="0.8"/>
<text x="31.00" y="299.50" font-size="10.30" text-anchor="end" font-weight="bold" font-style="normal" fill="#111">0.6</text>
<line x1="31.30" y1="298.50" x2="32.80" y2="298.50" stroke="#505050" stroke-width="0.8"/>
<text x="31.00" y="318.40" font-size="10.30" text-anchor="end" font-weight="bold" font-style="normal" fill="#111">0.5</text>
<line x1="31.30" y1="317.40" x2="32.80" y2="317.40" stroke="#505050" stroke-width="0.8"/>
<text x="6.00" y="229.20" font-size="10.00" text-anchor="start" font-weight="bold" font-style="normal" fill="#111">(c)</text>
<text x="15.40" y="268.45" font-size="10.40" text-anchor="middle" font-weight="bold" font-style="normal" fill="#111" transform="rotate(-90 15.40 268.45)" textLength="68.00" lengthAdjust="spacingAndGlyphs">Reflection[a.u.]</text>
<line x1="134.10" y1="287.90" x2="149.80" y2="287.90" stroke="#1fa640" stroke-width="1.45"/>
<text x="150.90" y="290.70" font-size="7.90" text-anchor="start" font-weight="bold" font-style="normal" fill="#111" textLength="37.60" lengthAdjust="spacingAndGlyphs">0 nm(real)</text>
<line x1="134.10" y1="295.70" x2="149.80" y2="295.70" stroke="#ff1010" stroke-width="1.45" stroke-dasharray="5.8 2.3"/>
<text x="150.90" y="298.50" font-size="7.90" text-anchor="start" font-weight="bold" font-style="normal" fill="#111" textLength="40.40" lengthAdjust="spacingAndGlyphs">0 nm(pred)</text>
<line x1="134.10" y1="303.50" x2="149.80" y2="303.50" stroke="#1a6fd6" stroke-width="1.45"/>
<text x="150.90" y="306.30" font-size="7.90" text-anchor="start" font-weight="bold" font-style="normal" fill="#111" textLength="37.60" lengthAdjust="spacingAndGlyphs">1 nm(real)</text>
<line x1="134.10" y1="311.30" x2="149.80" y2="311.30" stroke="#ffad00" stroke-width="1.45" stroke-dasharray="5.8 2.3"/>
<text x="150.90" y="314.10" font-size="7.90" text-anchor="start" font-weight="bold" font-style="normal" fill="#111" textLength="40.40" lengthAdjust="spacingAndGlyphs">1 nm(pred)</text>
<clipPath id="cl3"><rect x="31.20" y="326.50" width="160.80" height="94.50"/></clipPath>
<g clip-path="url(#cl3)">
<path d="M30.50,339.00 30.57,338.77 30.67,338.46 30.78,338.09 30.91,337.69 31.04,337.26 31.19,336.82 31.34,336.40 31.50,336.00 31.66,335.62 31.83,335.22 32.00,334.82 32.19,334.42 32.38,334.03 32.58,333.66 32.79,333.31 33.00,333.00 33.23,332.71 33.48,332.45 33.74,332.20 34.00,331.97 34.26,331.76 34.52,331.58 34.77,331.43 35.00,331.30 35.21,331.19 35.40,331.11 35.59,331.04 35.76,331.00 35.94,330.99 36.12,331.02 36.30,331.09 36.50,331.20 36.71,331.35 36.94,331.54 37.17,331.77 37.41,332.03 37.65,332.33 37.88,332.68 38.10,333.07 38.30,333.50 38.49,334.01 38.67,334.60 38.85,335.24 39.02,335.93 39.18,336.62 39.33,337.29 39.47,337.93 39.60,338.50 39.71,339.06 39.81,339.66 39.90,340.25 39.98,340.81 40.05,341.30 40.12,341.69 40.21,341.93 40.30,342.00 40.40,341.87 40.50,341.55 40.61,341.09 40.71,340.53 40.82,339.90 40.94,339.25 41.07,338.60 41.20,338.00 41.34,337.40 41.49,336.75 41.65,336.07 41.81,335.38 41.98,334.70 42.15,334.06 42.33,333.49 42.50,333.00 42.65,332.60 42.76,332.27 42.85,331.99 42.96,331.75 43.10,331.54 43.30,331.36 43.60,331.18 44.00,331.00 44.52,330.83 45.14,330.68 45.83,330.56 46.59,330.45 47.41,330.35 48.25,330.24 49.12,330.13 50.00,330.00 50.92,329.86 51.91,329.71 52.94,329.56 54.00,329.40 55.06,329.24 56.09,329.09 57.08,328.94 58.00,328.80 58.87,328.66 59.73,328.51 60.56,328.36 61.36,328.21 62.11,328.08 62.81,327.96 63.44,327.87 64.00,327.80 64.47,327.76 64.85,327.72 65.17,327.71 65.43,327.71 65.66,327.74 65.87,327.80 66.08,327.88 66.30,328.00 66.53,328.14 66.74,328.30 66.94,328.49 67.12,328.70 67.30,328.95 67.47,329.25 67.64,329.59 67.80,330.00 67.96,330.44 68.11,330.90 68.25,331.39 68.39,331.94 68.52,332.55 68.65,333.26 68.77,334.07 68.90,335.00 69.02,336.03 69.14,337.12 69.25,338.29 69.36,339.56 69.47,340.95 69.58,342.48 69.69,344.15 69.80,346.00 69.91,348.01 70.02,350.18 70.14,352.49 70.25,354.94 70.36,357.52 70.47,360.23 70.59,363.06 70.70,366.00 70.81,369.10 70.93,372.39 71.05,375.83 71.16,379.38 71.28,383.00 71.39,386.67 71.50,390.35 71.60,394.00 71.70,398.02 71.79,402.62 71.87,407.48 71.96,412.25 72.04,416.62 72.12,420.25 72.21,422.82 72.30,424.00 72.39,423.57 72.49,421.75 72.59,418.87 72.69,415.25 72.79,411.23 72.89,407.12 72.99,403.27 73.10,400.00 73.21,397.12 73.32,394.24 73.43,391.38 73.55,388.56 73.67,385.80 73.78,383.10 73.89,380.50 74.00,378.00 74.10,375.59 74.20,373.25 74.30,370.98 74.40,368.79 74.50,366.69 74.60,364.68 74.70,362.78 74.80,361.00 74.90,359.34 75.00,357.80 75.10,356.37 75.20,355.04 75.31,353.79 75.42,352.60 75.55,351.48 75.70,350.40 75.86,349.38 76.04,348.45 76.24,347.59 76.44,346.79 76.65,346.04 76.86,345.33 77.08,344.66 77.30,344.00 77.52,343.38 77.73,342.81 77.95,342.28 78.17,341.79 78.41,341.32 78.65,340.87 78.92,340.44 79.20,340.00 79.50,339.57 79.80,339.16 80.12,338.77 80.46,338.39 80.81,338.03 81.18,337.68 81.58,337.33 82.00,337.00 82.46,336.68 82.96,336.37 83.49,336.07 84.04,335.78 84.59,335.50 85.15,335.23 85.68,334.96 86.20,334.70 86.69,334.43 87.15,334.16 87.60,333.88 88.05,333.62 88.50,333.37 88.98,333.15 89.47,332.95 90.00,332.80 90.50,332.70 90.93,332.67 91.35,332.67 91.80,332.69 92.34,332.71 93.02,332.72 93.89,332.69 95.00,332.60 96.40,332.46 98.05,332.27 99.89,332.05 101.88,331.81 103.94,331.57 106.02,331.32 108.06,331.10 110.00,330.90 111.93,330.72 113.94,330.54 115.98,330.37 118.00,330.21 119.96,330.06 121.81,329.92 123.51,329.80 125.00,329.70 126.28,329.61 127.39,329.54 128.36,329.48 129.22,329.44 129.98,329.41 130.68,329.39 131.35,329.39 132.00,329.40 132.61,329.42 133.15,329.46 133.63,329.51 134.06,329.57 134.44,329.65 134.81,329.74 135.15,329.86 135.50,330.00 135.83,330.17 136.12,330.37 136.38,330.60 136.62,330.84 136.85,331.09 137.09,331.34 137.33,331.58 137.60,331.80 137.89,332.02 138.18,332.26 138.48,332.51 138.78,332.75 139.09,332.96 139.39,333.14 139.70,333.25 140.00,333.30 140.30,333.27 140.59,333.17 140.88,333.01 141.17,332.81 141.47,332.59 141.77,332.35 142.08,332.12 142.40,331.90 142.72,331.68 143.03,331.43 143.33,331.16 143.65,330.89 143.99,330.63 144.35,330.39 144.75,330.17 145.20,330.00 145.70,329.86 146.25,329.76 146.84,329.67 147.46,329.61 148.10,329.56 148.74,329.53 149.38,329.51 150.00,329.50 150.62,329.50 151.24,329.52 151.86,329.56 152.49,329.61 153.12,329.67 153.75,329.74 154.37,329.82 155.00,329.90 155.63,330.00 156.26,330.12 156.90,330.25 157.53,330.39 158.16,330.53 158.79,330.66 159.40,330.79 160.00,330.90 160.59,331.00 161.16,331.11 161.72,331.21 162.28,331.31 162.83,331.39 163.39,331.45 163.94,331.49 164.50,331.50 165.07,331.48 165.66,331.42 166.25,331.34 166.84,331.24 167.42,331.13 167.98,331.01 168.51,330.90 169.00,330.80 169.41,330.70 169.74,330.61 170.02,330.51 170.28,330.41 170.57,330.30 170.93,330.20 171.40,330.10 172.00,330.00 172.74,329.90 173.56,329.80 174.48,329.70 175.46,329.61 176.52,329.51 177.63,329.41 178.79,329.30 180.00,329.20 181.34,329.09 182.86,328.96 184.49,328.83 186.15,328.70 187.77,328.58 189.26,328.47 190.57,328.37 191.60,328.30 192.36,328.25 192.90,328.23 193.28,328.22 193.52,328.22 193.68,328.23 193.78,328.24 193.88,328.25 194.00,328.25" fill="none" stroke="#1fa640" stroke-width="1.75" stroke-linejoin="round"/>
<path d="M30.50,339.00 30.57,338.77 30.67,338.46 30.78,338.09 30.91,337.69 31.04,337.26 31.19,336.82 31.34,336.40 31.50,336.00 31.66,335.62 31.83,335.22 32.00,334.82 32.19,334.42 32.38,334.03 32.58,333.66 32.79,333.31 33.00,333.00 33.23,332.71 33.48,332.45 33.74,332.20 34.00,331.97 34.26,331.76 34.52,331.58 34.77,331.43 35.00,331.30 35.21,331.19 35.40,331.11 35.59,331.04 35.76,331.00 35.94,330.99 36.12,331.02 36.30,331.09 36.50,331.20 36.71,331.35 36.94,331.54 37.17,331.77 37.41,332.03 37.65,332.33 37.88,332.68 38.10,333.07 38.30,333.50 38.49,334.01 38.67,334.60 38.85,335.24 39.02,335.93 39.18,336.62 39.33,337.29 39.47,337.93 39.60,338.50 39.71,339.06 39.81,339.66 39.90,340.25 39.98,340.81 40.05,341.30 40.12,341.69 40.21,341.93 40.30,342.00 40.40,341.87 40.50,341.55 40.61,341.09 40.71,340.53 40.82,339.90 40.94,339.25 41.07,338.60 41.20,338.00 41.34,337.40 41.49,336.75 41.65,336.07 41.81,335.38 41.98,334.70 42.15,334.06 42.33,333.49 42.50,333.00 42.65,332.60 42.76,332.27 42.85,331.99 42.96,331.75 43.10,331.54 43.30,331.36 43.60,331.18 44.00,331.00 44.52,330.83 45.14,330.68 45.83,330.56 46.59,330.45 47.41,330.35 48.25,330.24 49.12,330.13 50.00,330.00 50.92,329.86 51.91,329.71 52.94,329.56 54.00,329.40 55.06,329.24 56.09,329.09 57.08,328.94 58.00,328.80 58.87,328.66 59.73,328.51 60.56,328.36 61.36,328.21 62.11,328.08 62.81,327.96 63.44,327.87 64.00,327.80 64.47,327.76 64.85,327.72 65.17,327.71 65.43,327.71 65.66,327.74 65.87,327.80 66.08,327.88 66.30,328.00 66.53,328.14 66.74,328.30 66.94,328.49 67.12,328.70 67.30,328.95 67.47,329.25 67.64,329.59 67.80,330.00 67.96,330.44 68.11,330.90 68.25,331.39 68.39,331.94 68.52,332.55 68.65,333.26 68.77,334.07 68.90,335.00 69.02,336.03 69.14,337.12 69.25,338.29 69.36,339.56 69.47,340.95 69.58,342.48 69.69,344.15 69.80,346.00 69.91,348.01 70.02,350.18 70.14,352.49 70.25,354.94 70.36,357.52 70.47,360.23 70.59,363.06 70.70,366.00 70.81,369.10 70.93,372.39 71.05,375.83 71.16,379.38 71.28,383.00 71.39,386.67 71.50,390.35 71.60,394.00 71.70,398.02 71.79,402.62 71.87,407.48 71.96,412.25 72.04,416.62 72.12,420.25 72.21,422.82 72.30,424.00 72.39,423.57 72.49,421.75 72.59,418.87 72.69,415.25 72.79,411.23 72.89,407.12 72.99,403.27 73.10,400.00 73.21,397.12 73.32,394.24 73.43,391.38 73.55,388.56 73.67,385.80 73.78,383.10 73.89,380.50 74.00,378.00 74.10,375.59 74.20,373.25 74.30,370.98 74.40,368.79 74.50,366.69 74.60,364.68 74.70,362.78 74.80,361.00 74.90,359.34 75.00,357.80 75.10,356.37 75.20,355.04 75.31,353.79 75.42,352.60 75.55,351.48 75.70,350.40 75.86,349.38 76.04,348.45 76.24,347.59 76.44,346.79 76.65,346.04 76.86,345.33 77.08,344.66 77.30,344.00 77.52,343.38 77.73,342.81 77.95,342.28 78.17,341.79 78.41,341.32 78.65,340.87 78.92,340.44 79.20,340.00 79.50,339.57 79.80,339.16 80.12,338.77 80.46,338.39 80.81,338.03 81.18,337.68 81.58,337.33 82.00,337.00 82.46,336.68 82.96,336.37 83.49,336.07 84.04,335.78 84.59,335.50 85.15,335.23 85.68,334.96 86.20,334.70 86.69,334.43 87.15,334.16 87.60,333.88 88.05,333.62 88.50,333.37 88.98,333.15 89.47,332.95 90.00,332.80 90.50,332.70 90.93,332.67 91.35,332.67 91.80,332.69 92.34,332.71 93.02,332.72 93.89,332.69 95.00,332.60 96.40,332.46 98.05,332.27 99.89,332.05 101.88,331.81 103.94,331.57 106.02,331.32 108.06,331.10 110.00,330.90 111.93,330.72 113.94,330.54 115.98,330.37 118.00,330.21 119.96,330.06 121.81,329.92 123.51,329.80 125.00,329.70 126.28,329.61 127.39,329.54 128.36,329.48 129.22,329.44 129.98,329.41 130.68,329.39 131.35,329.39 132.00,329.40 132.61,329.42 133.15,329.46 133.63,329.51 134.06,329.57 134.44,329.65 134.81,329.74 135.15,329.86 135.50,330.00 135.83,330.17 136.12,330.37 136.38,330.60 136.62,330.84 136.85,331.09 137.09,331.34 137.33,331.58 137.60,331.80 137.89,332.02 138.18,332.26 138.48,332.51 138.78,332.75 139.09,332.96 139.39,333.14 139.70,333.25 140.00,333.30 140.30,333.27 140.59,333.17 140.88,333.01 141.17,332.81 141.47,332.59 141.77,332.35 142.08,332.12 142.40,331.90 142.72,331.68 143.03,331.43 143.33,331.16 143.65,330.89 143.99,330.63 144.35,330.39 144.75,330.17 145.20,330.00 145.70,329.86 146.25,329.76 146.84,329.67 147.46,329.61 148.10,329.56 148.74,329.53 149.38,329.51 150.00,329.50 150.62,329.50 151.24,329.52 151.86,329.56 152.49,329.61 153.12,329.67 153.75,329.74 154.37,329.82 155.00,329.90 155.63,330.00 156.26,330.12 156.90,330.25 157.53,330.39 158.16,330.53 158.79,330.66 159.40,330.79 160.00,330.90 160.59,331.00 161.16,331.11 161.72,331.21 162.28,331.31 162.83,331.39 163.39,331.45 163.94,331.49 164.50,331.50 165.07,331.48 165.66,331.42 166.25,331.34 166.84,331.24 167.42,331.13 167.98,331.01 168.51,330.90 169.00,330.80 169.41,330.70 169.74,330.61 170.02,330.51 170.28,330.41 170.57,330.30 170.93,330.20 171.40,330.10 172.00,330.00 172.74,329.90 173.56,329.80 174.48,329.70 175.46,329.61 176.52,329.51 177.63,329.41 178.79,329.30 180.00,329.20 181.34,329.09 182.86,328.96 184.49,328.83 186.15,328.70 187.77,328.58 189.26,328.47 190.57,328.37 191.60,328.30 192.36,328.25 192.90,328.23 193.28,328.22 193.52,328.22 193.68,328.23 193.78,328.24 193.88,328.25 194.00,328.25" fill="none" stroke="#ff1010" stroke-width="1.75" stroke-linejoin="round" stroke-dasharray="5.2 2.8"/>
<path d="M30.50,340.00 30.57,339.77 30.67,339.46 30.78,339.09 30.91,338.69 31.04,338.26 31.19,337.82 31.34,337.40 31.50,337.00 31.66,336.62 31.83,336.22 32.00,335.81 32.19,335.41 32.38,335.02 32.58,334.65 32.79,334.31 33.00,334.00 33.23,333.72 33.48,333.46 33.74,333.23 34.00,333.01 34.26,332.82 34.52,332.65 34.77,332.51 35.00,332.40 35.21,332.31 35.40,332.25 35.58,332.20 35.75,332.19 35.92,332.20 36.10,332.24 36.29,332.30 36.50,332.40 36.73,332.53 36.97,332.70 37.23,332.89 37.49,333.11 37.75,333.36 38.01,333.62 38.26,333.91 38.50,334.20 38.73,334.55 38.96,334.96 39.19,335.42 39.41,335.89 39.62,336.33 39.82,336.72 40.02,337.02 40.20,337.20 40.36,337.26 40.51,337.23 40.64,337.12 40.77,336.96 40.89,336.74 41.02,336.50 41.15,336.25 41.30,336.00 41.45,335.73 41.58,335.40 41.72,335.04 41.86,334.67 42.02,334.29 42.21,333.93 42.43,333.59 42.70,333.30 42.98,333.05 43.26,332.83 43.55,332.64 43.88,332.46 44.26,332.29 44.73,332.13 45.30,331.96 46.00,331.80 46.88,331.63 47.94,331.47 49.13,331.31 50.39,331.16 51.67,331.01 52.90,330.86 54.03,330.73 55.00,330.60 55.83,330.47 56.58,330.34 57.26,330.22 57.88,330.10 58.45,329.99 58.98,329.91 59.50,329.84 60.00,329.80 60.48,329.79 60.91,329.79 61.32,329.82 61.69,329.87 62.04,329.93 62.37,330.01 62.69,330.10 63.00,330.20 63.30,330.30 63.58,330.41 63.83,330.52 64.08,330.66 64.31,330.81 64.54,331.00 64.77,331.23 65.00,331.50 65.24,331.80 65.47,332.11 65.70,332.45 65.92,332.83 66.15,333.26 66.37,333.76 66.59,334.33 66.80,335.00 67.01,335.76 67.22,336.61 67.42,337.54 67.63,338.53 67.82,339.58 68.02,340.68 68.21,341.83 68.40,343.00 68.58,344.21 68.76,345.47 68.94,346.77 69.11,348.12 69.28,349.52 69.45,350.97 69.63,352.46 69.80,354.00 69.97,355.61 70.15,357.31 70.33,359.07 70.50,360.88 70.67,362.69 70.85,364.50 71.02,366.28 71.20,368.00 71.38,369.71 71.56,371.45 71.74,373.19 71.92,374.91 72.10,376.57 72.27,378.16 72.44,379.65 72.60,381.00 72.75,382.27 72.90,383.50 73.04,384.65 73.18,385.72 73.32,386.66 73.45,387.46 73.57,388.08 73.70,388.50 73.82,388.72 73.94,388.75 74.05,388.62 74.16,388.34 74.26,387.93 74.37,387.39 74.48,386.74 74.60,386.00 74.72,385.14 74.84,384.12 74.96,382.98 75.08,381.72 75.21,380.37 75.33,378.96 75.46,377.49 75.60,376.00 75.74,374.39 75.89,372.61 76.04,370.71 76.19,368.78 76.35,366.88 76.50,365.07 76.65,363.42 76.80,362.00 76.94,360.79 77.08,359.72 77.22,358.77 77.36,357.94 77.50,357.21 77.63,356.56 77.77,356.00 77.90,355.50 78.03,355.08 78.15,354.76 78.28,354.52 78.40,354.38 78.52,354.30 78.65,354.30 78.77,354.37 78.90,354.50 79.03,354.68 79.17,354.91 79.31,355.20 79.44,355.56 79.58,356.01 79.72,356.56 79.86,357.22 80.00,358.00 80.14,358.94 80.28,360.05 80.42,361.30 80.56,362.62 80.69,364.00 80.83,365.38 80.97,366.73 81.10,368.00 81.23,369.26 81.36,370.56 81.49,371.88 81.62,373.19 81.74,374.44 81.87,375.59 81.99,376.63 82.10,377.50 82.21,378.24 82.31,378.88 82.41,379.43 82.51,379.88 82.60,380.21 82.70,380.43 82.80,380.53 82.90,380.50 83.01,380.36 83.11,380.12 83.22,379.78 83.33,379.31 83.44,378.71 83.55,377.97 83.67,377.07 83.80,376.00 83.93,374.69 84.08,373.12 84.22,371.36 84.37,369.47 84.53,367.52 84.69,365.58 84.84,363.72 85.00,362.00 85.15,360.37 85.31,358.75 85.46,357.16 85.62,355.59 85.78,354.08 85.94,352.64 86.12,351.27 86.30,350.00 86.48,348.83 86.67,347.75 86.85,346.75 87.04,345.81 87.25,344.93 87.47,344.09 87.72,343.29 88.00,342.50 88.31,341.74 88.64,341.02 88.99,340.35 89.36,339.71 89.74,339.11 90.15,338.54 90.57,338.01 91.00,337.50 91.45,337.03 91.91,336.60 92.38,336.21 92.88,335.85 93.38,335.51 93.91,335.20 94.45,334.90 95.00,334.60 95.54,334.32 96.06,334.06 96.58,333.82 97.12,333.60 97.71,333.39 98.38,333.19 99.13,332.99 100.00,332.80 100.98,332.61 102.03,332.44 103.16,332.27 104.38,332.11 105.66,331.96 107.03,331.81 108.48,331.65 110.00,331.50 111.69,331.34 113.59,331.17 115.61,331.00 117.69,330.84 119.74,330.68 121.70,330.53 123.47,330.41 125.00,330.30 126.28,330.21 127.39,330.14 128.36,330.08 129.22,330.04 129.98,330.01 130.68,329.99 131.35,329.99 132.00,330.00 132.61,330.02 133.15,330.06 133.63,330.11 134.06,330.17 134.44,330.25 134.81,330.34 135.15,330.46 135.50,330.60 135.83,330.77 136.12,330.97 136.38,331.20 136.62,331.44 136.85,331.69 137.09,331.94 137.33,332.18 137.60,332.40 137.89,332.63 138.18,332.89 138.48,333.15 138.78,333.41 139.09,333.64 139.39,333.82 139.70,333.95 140.00,334.00 140.30,333.96 140.59,333.85 140.88,333.68 141.17,333.47 141.47,333.23 141.77,332.98 142.08,332.73 142.40,332.50 142.72,332.27 143.03,332.02 143.33,331.76 143.65,331.49 143.99,331.23 144.35,330.99 144.75,330.77 145.20,330.60 145.70,330.46 146.25,330.36 146.84,330.27 147.46,330.21 148.10,330.16 148.74,330.13 149.38,330.11 150.00,330.10 150.62,330.10 151.24,330.12 151.86,330.16 152.49,330.21 153.12,330.27 153.75,330.34 154.37,330.42 155.00,330.50 155.63,330.60 156.26,330.72 156.90,330.85 157.53,330.99 158.16,331.13 158.79,331.26 159.40,331.39 160.00,331.50 160.59,331.60 161.16,331.71 161.72,331.81 162.28,331.91 162.83,331.99 163.39,332.05 163.94,332.09 164.50,332.10 165.07,332.08 165.66,332.02 166.25,331.94 166.84,331.84 167.42,331.73 167.98,331.61 168.51,331.50 169.00,331.40 169.41,331.30 169.74,331.21 170.02,331.11 170.28,331.01 170.57,330.90 170.93,330.80 171.40,330.70 172.00,330.60 172.74,330.50 173.56,330.40 174.48,330.30 175.46,330.21 176.52,330.11 177.63,330.01 178.79,329.90 180.00,329.80 181.34,329.69 182.86,329.56 184.49,329.43 186.15,329.30 187.77,329.18 189.26,329.07 190.57,328.97 191.60,328.90 192.36,328.85 192.90,328.83 193.28,328.82 193.52,328.82 193.68,328.83 193.78,328.84 193.88,328.85 194.00,328.85" fill="none" stroke="#1a6fd6" stroke-width="1.75" stroke-linejoin="round"/>
<path d="M30.50,340.00 30.57,339.77 30.67,339.46 30.78,339.09 30.91,338.69 31.04,338.26 31.19,337.82 31.34,337.40 31.50,337.00 31.66,336.62 31.83,336.22 32.00,335.81 32.19,335.41 32.38,335.02 32.58,334.65 32.79,334.31 33.00,334.00 33.23,333.72 33.48,333.46 33.74,333.23 34.00,333.01 34.26,332.82 34.52,332.65 34.77,332.51 35.00,332.40 35.21,332.31 35.40,332.25 35.58,332.20 35.75,332.19 35.92,332.20 36.10,332.24 36.29,332.30 36.50,332.40 36.73,332.53 36.97,332.70 37.23,332.89 37.49,333.11 37.75,333.36 38.01,333.62 38.26,333.91 38.50,334.20 38.73,334.55 38.96,334.96 39.19,335.42 39.41,335.89 39.62,336.33 39.82,336.72 40.02,337.02 40.20,337.20 40.36,337.26 40.51,337.23 40.64,337.12 40.77,336.96 40.89,336.74 41.02,336.50 41.15,336.25 41.30,336.00 41.45,335.73 41.58,335.40 41.72,335.04 41.86,334.67 42.02,334.29 42.21,333.93 42.43,333.59 42.70,333.30 42.98,333.05 43.26,332.83 43.55,332.64 43.88,332.46 44.26,332.29 44.73,332.13 45.30,331.96 46.00,331.80 46.88,331.63 47.94,331.47 49.13,331.31 50.39,331.16 51.67,331.01 52.90,330.86 54.03,330.73 55.00,330.60 55.83,330.47 56.58,330.34 57.26,330.22 57.88,330.10 58.45,329.99 58.98,329.91 59.50,329.84 60.00,329.80 60.48,329.79 60.91,329.79 61.32,329.82 61.69,329.87 62.04,329.93 62.37,330.01 62.69,330.10 63.00,330.20 63.30,330.30 63.58,330.41 63.83,330.52 64.08,330.66 64.31,330.81 64.54,331.00 64.77,331.23 65.00,331.50 65.24,331.80 65.47,332.11 65.70,332.45 65.92,332.83 66.15,333.26 66.37,333.76 66.59,334.33 66.80,335.00 67.01,335.76 67.22,336.61 67.42,337.54 67.63,338.53 67.82,339.58 68.02,340.68 68.21,341.83 68.40,343.00 68.58,344.21 68.76,345.47 68.94,346.77 69.11,348.12 69.28,349.52 69.45,350.97 69.63,352.46 69.80,354.00 69.97,355.61 70.15,357.31 70.33,359.07 70.50,360.88 70.67,362.69 70.85,364.50 71.02,366.28 71.20,368.00 71.38,369.71 71.56,371.45 71.74,373.19 71.92,374.91 72.10,376.57 72.27,378.16 72.44,379.65 72.60,381.00 72.75,382.27 72.90,383.50 73.04,384.65 73.18,385.72 73.32,386.66 73.45,387.46 73.57,388.08 73.70,388.50 73.82,388.72 73.94,388.75 74.05,388.62 74.16,388.34 74.26,387.93 74.37,387.39 74.48,386.74 74.60,386.00 74.72,385.14 74.84,384.12 74.96,382.98 75.08,381.72 75.21,380.37 75.33,378.96 75.46,377.49 75.60,376.00 75.74,374.39 75.89,372.61 76.04,370.71 76.19,368.78 76.35,366.88 76.50,365.07 76.65,363.42 76.80,362.00 76.94,360.79 77.08,359.72 77.22,358.77 77.36,357.94 77.50,357.21 77.63,356.56 77.77,356.00 77.90,355.50 78.03,355.08 78.15,354.76 78.28,354.52 78.40,354.38 78.52,354.30 78.65,354.30 78.77,354.37 78.90,354.50 79.03,354.68 79.17,354.91 79.31,355.20 79.44,355.56 79.58,356.01 79.72,356.56 79.86,357.22 80.00,358.00 80.14,358.94 80.28,360.05 80.42,361.30 80.56,362.62 80.69,364.00 80.83,365.38 80.97,366.73 81.10,368.00 81.23,369.26 81.36,370.56 81.49,371.88 81.62,373.19 81.74,374.44 81.87,375.59 81.99,376.63 82.10,377.50 82.21,378.24 82.31,378.88 82.41,379.43 82.51,379.88 82.60,380.21 82.70,380.43 82.80,380.53 82.90,380.50 83.01,380.36 83.11,380.12 83.22,379.78 83.33,379.31 83.44,378.71 83.55,377.97 83.67,377.07 83.80,376.00 83.93,374.69 84.08,373.12 84.22,371.36 84.37,369.47 84.53,367.52 84.69,365.58 84.84,363.72 85.00,362.00 85.15,360.37 85.31,358.75 85.46,357.16 85.62,355.59 85.78,354.08 85.94,352.64 86.12,351.27 86.30,350.00 86.48,348.83 86.67,347.75 86.85,346.75 87.04,345.81 87.25,344.93 87.47,344.09 87.72,343.29 88.00,342.50 88.31,341.74 88.64,341.02 88.99,340.35 89.36,339.71 89.74,339.11 90.15,338.54 90.57,338.01 91.00,337.50 91.45,337.03 91.91,336.60 92.38,336.21 92.88,335.85 93.38,335.51 93.91,335.20 94.45,334.90 95.00,334.60 95.54,334.32 96.06,334.06 96.58,333.82 97.12,333.60 97.71,333.39 98.38,333.19 99.13,332.99 100.00,332.80 100.98,332.61 102.03,332.44 103.16,332.27 104.38,332.11 105.66,331.96 107.03,331.81 108.48,331.65 110.00,331.50 111.69,331.34 113.59,331.17 115.61,331.00 117.69,330.84 119.74,330.68 121.70,330.53 123.47,330.41 125.00,330.30 126.28,330.21 127.39,330.14 128.36,330.08 129.22,330.04 129.98,330.01 130.68,329.99 131.35,329.99 132.00,330.00 132.61,330.02 133.15,330.06 133.63,330.11 134.06,330.17 134.44,330.25 134.81,330.34 135.15,330.46 135.50,330.60 135.83,330.77 136.12,330.97 136.38,331.20 136.62,331.44 136.85,331.69 137.09,331.94 137.33,332.18 137.60,332.40 137.89,332.63 138.18,332.89 138.48,333.15 138.78,333.41 139.09,333.64 139.39,333.82 139.70,333.95 140.00,334.00 140.30,333.96 140.59,333.85 140.88,333.68 141.17,333.47 141.47,333.23 141.77,332.98 142.08,332.73 142.40,332.50 142.72,332.27 143.03,332.02 143.33,331.76 143.65,331.49 143.99,331.23 144.35,330.99 144.75,330.77 145.20,330.60 145.70,330.46 146.25,330.36 146.84,330.27 147.46,330.21 148.10,330.16 148.74,330.13 149.38,330.11 150.00,330.10 150.62,330.10 151.24,330.12 151.86,330.16 152.49,330.21 153.12,330.27 153.75,330.34 154.37,330.42 155.00,330.50 155.63,330.60 156.26,330.72 156.90,330.85 157.53,330.99 158.16,331.13 158.79,331.26 159.40,331.39 160.00,331.50 160.59,331.60 161.16,331.71 161.72,331.81 162.28,331.91 162.83,331.99 163.39,332.05 163.94,332.09 164.50,332.10 165.07,332.08 165.66,332.02 166.25,331.94 166.84,331.84 167.42,331.73 167.98,331.61 168.51,331.50 169.00,331.40 169.41,331.30 169.74,331.21 170.02,331.11 170.28,331.01 170.57,330.90 170.93,330.80 171.40,330.70 172.00,330.60 172.74,330.50 173.56,330.40 174.48,330.30 175.46,330.21 176.52,330.11 177.63,330.01 178.79,329.90 180.00,329.80 181.34,329.69 182.86,329.56 184.49,329.43 186.15,329.30 187.77,329.18 189.26,329.07 190.57,328.97 191.60,328.90 192.36,328.85 192.90,328.83 193.28,328.82 193.52,328.82 193.68,328.83 193.78,328.84 193.88,328.85 194.00,328.85" fill="none" stroke="#ffad00" stroke-width="1.75" stroke-linejoin="round" stroke-dasharray="5.2 2.8"/>
</g>
<rect x="31.20" y="326.50" width="160.80" height="94.50" fill="none" stroke="#505050" stroke-width="1.40"/>
<line x1="31.20" y1="421.00" x2="31.20" y2="419.50" stroke="#505050" stroke-width="0.8"/>
<line x1="71.40" y1="421.00" x2="71.40" y2="419.50" stroke="#505050" stroke-width="0.8"/>
<line x1="111.60" y1="421.00" x2="111.60" y2="419.50" stroke="#505050" stroke-width="0.8"/>
<line x1="151.80" y1="421.00" x2="151.80" y2="419.50" stroke="#505050" stroke-width="0.8"/>
<line x1="192.00" y1="421.00" x2="192.00" y2="419.50" stroke="#505050" stroke-width="0.8"/>
<text x="26.00" y="332.30" font-size="10.00" text-anchor="end" font-weight="bold" font-style="normal" fill="#111">1</text>
<text x="30.90" y="346.40" font-size="10.30" text-anchor="end" font-weight="bold" font-style="normal" fill="#111">0.8</text>
<line x1="31.20" y1="345.40" x2="32.70" y2="345.40" stroke="#505050" stroke-width="0.8"/>
<text x="30.90" y="365.30" font-size="10.30" text-anchor="end" font-weight="bold" font-style="normal" fill="#111">0.6</text>
<line x1="31.20" y1="364.30" x2="32.70" y2="364.30" stroke="#505050" stroke-width="0.8"/>
<text x="30.90" y="384.20" font-size="10.30" text-anchor="end" font-weight="bold" font-style="normal" fill="#111">0.4</text>
<line x1="31.20" y1="383.20" x2="32.70" y2="383.20" stroke="#505050" stroke-width="0.8"/>
<text x="30.90" y="403.10" font-size="10.30" text-anchor="end" font-weight="bold" font-style="normal" fill="#111">0.2</text>
<line x1="31.20" y1="402.10" x2="32.70" y2="402.10" stroke="#505050" stroke-width="0.8"/>
<text x="25.80" y="422.00" font-size="10.00" text-anchor="end" font-weight="bold" font-style="normal" fill="#111">0</text>
<line x1="31.20" y1="421.00" x2="32.70" y2="421.00" stroke="#505050" stroke-width="0.8"/>
<text x="6.00" y="332.90" font-size="10.00" text-anchor="start" font-weight="bold" font-style="normal" fill="#111">(d)</text>
<text x="15.40" y="371.80" font-size="10.40" text-anchor="middle" font-weight="bold" font-style="normal" fill="#111" transform="rotate(-90 15.40 371.80)" textLength="68.00" lengthAdjust="spacingAndGlyphs">Reflection[a.u.]</text>
<line x1="133.80" y1="391.50" x2="149.50" y2="391.50" stroke="#1fa640" stroke-width="1.45"/>
<text x="150.60" y="394.30" font-size="7.90" text-anchor="start" font-weight="bold" font-style="normal" fill="#111" textLength="37.60" lengthAdjust="spacingAndGlyphs">0 nm(real)</text>
<line x1="133.80" y1="399.30" x2="149.50" y2="399.30" stroke="#ff1010" stroke-width="1.45" stroke-dasharray="5.8 2.3"/>
<text x="150.60" y="402.10" font-size="7.90" text-anchor="start" font-weight="bold" font-style="normal" fill="#111" textLength="40.40" lengthAdjust="spacingAndGlyphs">0 nm(pred)</text>
<line x1="133.80" y1="407.10" x2="149.50" y2="407.10" stroke="#1a6fd6" stroke-width="1.45"/>
<text x="150.60" y="409.90" font-size="7.90" text-anchor="start" font-weight="bold" font-style="normal" fill="#111" textLength="37.60" lengthAdjust="spacingAndGlyphs">1 nm(real)</text>
<line x1="133.80" y1="414.90" x2="149.50" y2="414.90" stroke="#ffad00" stroke-width="1.45" stroke-dasharray="5.8 2.3"/>
<text x="150.60" y="417.70" font-size="7.90" text-anchor="start" font-weight="bold" font-style="normal" fill="#111" textLength="40.40" lengthAdjust="spacingAndGlyphs">1 nm(pred)</text>
<clipPath id="cl4"><rect x="30.80" y="429.00" width="160.60" height="95.60"/></clipPath>
<g clip-path="url(#cl4)">
<path d="M30.50,497.30 30.62,497.24 30.78,497.20 30.97,497.16 31.18,497.09 31.40,496.98 31.62,496.80 31.82,496.55 32.00,496.20 32.16,495.72 32.31,495.13 32.45,494.45 32.59,493.71 32.73,492.94 32.86,492.18 32.98,491.46 33.10,490.80 33.22,490.21 33.32,489.65 33.43,489.12 33.53,488.60 33.62,488.08 33.71,487.55 33.81,486.99 33.90,486.40 33.99,485.77 34.08,485.10 34.17,484.40 34.26,483.70 34.35,483.00 34.43,482.30 34.52,481.63 34.60,481.00 34.68,480.41 34.75,479.85 34.82,479.32 34.89,478.79 34.96,478.27 35.04,477.74 35.12,477.19 35.20,476.60 35.29,475.99 35.38,475.37 35.48,474.73 35.58,474.08 35.68,473.41 35.78,472.73 35.89,472.03 36.00,471.30 36.12,470.53 36.24,469.72 36.36,468.88 36.49,468.03 36.62,467.18 36.75,466.35 36.87,465.55 37.00,464.80 37.12,464.09 37.25,463.41 37.37,462.75 37.49,462.11 37.61,461.50 37.74,460.91 37.87,460.34 38.00,459.80 38.14,459.28 38.28,458.80 38.43,458.33 38.57,457.89 38.73,457.47 38.88,457.07 39.04,456.68 39.20,456.30 39.36,455.94 39.51,455.61 39.67,455.29 39.83,454.99 39.99,454.70 40.18,454.41 40.38,454.11 40.60,453.80 40.84,453.47 41.10,453.14 41.38,452.80 41.67,452.46 41.98,452.12 42.30,451.80 42.64,451.49 43.00,451.20 43.37,450.94 43.75,450.70 44.14,450.48 44.56,450.26 44.99,450.05 45.46,449.85 45.96,449.63 46.50,449.40 47.09,449.16 47.72,448.90 48.39,448.65 49.09,448.39 49.81,448.13 50.54,447.88 51.27,447.63 52.00,447.40 52.73,447.18 53.46,446.97 54.21,446.76 54.96,446.56 55.73,446.37 56.50,446.18 57.30,445.99 58.10,445.80 58.93,445.61 59.80,445.43 60.68,445.24 61.58,445.06 62.47,444.89 63.34,444.72 64.19,444.55 65.00,444.40 65.68,444.26 66.19,444.15 66.63,444.05 67.08,443.96 67.62,443.85 68.35,443.73 69.34,443.58 70.70,443.40 72.44,443.17 74.48,442.91 76.78,442.62 79.27,442.32 81.89,442.00 84.60,441.69 87.32,441.39 90.00,441.10 92.67,440.82 95.40,440.54 98.18,440.27 101.02,439.99 103.92,439.73 106.88,439.47 109.91,439.23 113.00,439.00 116.20,438.79 119.52,438.60 122.92,438.41 126.38,438.24 129.85,438.08 133.30,437.92 136.69,437.76 140.00,437.60 143.21,437.44 146.35,437.28 149.45,437.13 152.53,436.98 155.60,436.83 158.68,436.68 161.81,436.54 165.00,436.40 168.41,436.26 172.10,436.11 175.92,435.97 179.71,435.83 183.33,435.70 186.61,435.58 189.42,435.48 191.60,435.40 193.07,435.35 193.96,435.32 194.38,435.31 194.46,435.31 194.34,435.32 194.14,435.34 193.98,435.35 194.00,435.35" fill="none" stroke="#1fa640" stroke-width="1.75" stroke-linejoin="round"/>
<path d="M30.50,483.00 30.59,483.20 30.70,483.47 30.84,483.79 30.99,484.14 31.15,484.50 31.31,484.87 31.46,485.20 31.60,485.50 31.73,485.79 31.86,486.10 31.99,486.41 32.12,486.70 32.24,486.96 32.37,487.15 32.49,487.28 32.60,487.30 32.71,487.22 32.81,487.05 32.91,486.81 33.01,486.51 33.11,486.17 33.20,485.79 33.30,485.40 33.40,485.00 33.50,484.58 33.60,484.13 33.70,483.64 33.80,483.13 33.90,482.60 34.00,482.07 34.10,481.53 34.20,481.00 34.30,480.48 34.40,479.95 34.49,479.42 34.59,478.88 34.69,478.33 34.79,477.77 34.89,477.20 35.00,476.60 35.12,475.99 35.24,475.37 35.36,474.73 35.49,474.08 35.62,473.41 35.75,472.73 35.87,472.03 36.00,471.30 36.12,470.53 36.25,469.72 36.38,468.88 36.50,468.03 36.62,467.18 36.75,466.35 36.88,465.55 37.00,464.80 37.12,464.09 37.25,463.41 37.37,462.75 37.49,462.11 37.61,461.50 37.74,460.91 37.87,460.34 38.00,459.80 38.14,459.28 38.28,458.80 38.43,458.33 38.57,457.89 38.73,457.47 38.88,457.07 39.04,456.68 39.20,456.30 39.36,455.94 39.51,455.61 39.67,455.29 39.83,454.99 39.99,454.70 40.18,454.41 40.38,454.11 40.60,453.80 40.84,453.47 41.10,453.14 41.38,452.80 41.67,452.46 41.98,452.12 42.30,451.80 42.64,451.49 43.00,451.20 43.37,450.94 43.75,450.70 44.14,450.48 44.56,450.26 44.99,450.05 45.46,449.85 45.96,449.63 46.50,449.40 47.09,449.16 47.72,448.90 48.39,448.65 49.09,448.39 49.81,448.13 50.54,447.88 51.27,447.63 52.00,447.40 52.73,447.18 53.46,446.97 54.21,446.76 54.96,446.56 55.73,446.37 56.50,446.18 57.30,445.99 58.10,445.80 58.93,445.61 59.80,445.43 60.68,445.24 61.58,445.06 62.47,444.89 63.34,444.72 64.19,444.55 65.00,444.40 65.68,444.26 66.19,444.15 66.63,444.05 67.08,443.96 67.62,443.85 68.35,443.73 69.34,443.58 70.70,443.40 72.44,443.17 74.48,442.91 76.78,442.62 79.27,442.32 81.89,442.00 84.60,441.69 87.32,441.39 90.00,441.10 92.67,440.82 95.40,440.54 98.18,440.27 101.02,439.99 103.92,439.73 106.88,439.47 109.91,439.23 113.00,439.00 116.20,438.79 119.52,438.60 122.92,438.41 126.38,438.24 129.85,438.08 133.30,437.92 136.69,437.76 140.00,437.60 143.21,437.44 146.35,437.28 149.45,437.13 152.53,436.98 155.60,436.83 158.68,436.68 161.81,436.54 165.00,436.40 168.41,436.26 172.10,436.11 175.92,435.97 179.71,435.83 183.33,435.70 186.61,435.58 189.42,435.48 191.60,435.40 193.07,435.35 193.96,435.32 194.38,435.31 194.46,435.31 194.34,435.32 194.14,435.34 193.98,435.35 194.00,435.35" fill="none" stroke="#ff1010" stroke-width="1.75" stroke-linejoin="round" stroke-dasharray="5.2 2.8"/>
<path d="M30.50,505.20 30.65,505.45 30.85,505.79 31.09,506.20 31.36,506.64 31.64,507.12 31.93,507.60 32.22,508.06 32.50,508.50 32.78,508.93 33.06,509.38 33.35,509.85 33.65,510.31 33.95,510.75 34.24,511.15 34.52,511.51 34.80,511.80 35.06,512.03 35.32,512.22 35.56,512.38 35.81,512.49 36.05,512.56 36.29,512.61 36.54,512.62 36.80,512.60 37.06,512.57 37.33,512.53 37.60,512.46 37.87,512.36 38.14,512.21 38.42,511.99 38.71,511.69 39.00,511.30 39.30,510.82 39.60,510.25 39.92,509.62 40.23,508.91 40.55,508.14 40.87,507.32 41.19,506.43 41.50,505.50 41.81,504.50 42.10,503.41 42.39,502.25 42.69,501.04 42.99,499.80 43.30,498.53 43.64,497.26 44.00,496.00 44.39,494.73 44.79,493.41 45.22,492.07 45.66,490.72 46.11,489.37 46.57,488.04 47.03,486.75 47.50,485.50 47.98,484.28 48.48,483.06 48.99,481.85 49.50,480.68 50.01,479.54 50.52,478.45 51.02,477.44 51.50,476.50 51.95,475.66 52.38,474.90 52.78,474.21 53.19,473.57 53.60,472.97 54.03,472.39 54.49,471.80 55.00,471.20 55.55,470.60 56.12,470.02 56.72,469.45 57.34,468.90 57.99,468.35 58.64,467.78 59.32,467.20 60.00,466.60 60.72,465.95 61.48,465.27 62.26,464.55 63.06,463.84 63.85,463.14 64.62,462.47 65.34,461.85 66.00,461.30 66.61,460.82 67.18,460.38 67.73,459.98 68.24,459.62 68.72,459.30 69.17,459.01 69.60,458.74 70.00,458.50 70.36,458.28 70.67,458.09 70.95,457.93 71.21,457.80 71.45,457.70 71.69,457.63 71.93,457.60 72.20,457.60 72.49,457.63 72.78,457.67 73.08,457.74 73.38,457.85 73.67,458.00 73.96,458.20 74.24,458.47 74.50,458.80 74.75,459.19 74.99,459.64 75.22,460.14 75.45,460.69 75.67,461.31 75.88,461.98 76.09,462.71 76.30,463.50 76.50,464.34 76.70,465.23 76.89,466.17 77.08,467.17 77.26,468.24 77.44,469.40 77.62,470.65 77.80,472.00 77.98,473.49 78.16,475.11 78.34,476.85 78.52,478.66 78.69,480.51 78.87,482.37 79.04,484.21 79.20,486.00 79.36,487.79 79.52,489.62 79.68,491.48 79.83,493.32 79.98,495.13 80.13,496.87 80.27,498.50 80.40,500.00 80.53,501.47 80.64,502.98 80.76,504.45 80.86,505.83 80.97,507.02 81.08,507.96 81.18,508.58 81.30,508.80 81.42,508.58 81.54,507.98 81.67,507.06 81.79,505.89 81.92,504.53 82.05,503.05 82.17,501.52 82.30,500.00 82.42,498.43 82.54,496.71 82.66,494.87 82.78,492.95 82.90,490.97 83.03,488.97 83.16,486.97 83.30,485.00 83.45,483.00 83.59,480.91 83.75,478.77 83.91,476.62 84.07,474.53 84.24,472.53 84.42,470.67 84.60,469.00 84.79,467.51 84.99,466.16 85.19,464.94 85.39,463.81 85.61,462.77 85.83,461.80 86.06,460.89 86.30,460.00 86.54,459.18 86.78,458.45 87.03,457.79 87.29,457.19 87.56,456.63 87.85,456.09 88.16,455.55 88.50,455.00 88.87,454.44 89.27,453.89 89.70,453.36 90.14,452.84 90.59,452.35 91.06,451.87 91.53,451.42 92.00,451.00 92.47,450.61 92.95,450.26 93.44,449.93 93.93,449.62 94.43,449.33 94.95,449.05 95.47,448.77 96.00,448.50 96.49,448.24 96.93,448.01 97.34,447.79 97.78,447.58 98.28,447.37 98.89,447.14 99.65,446.89 100.60,446.60 101.75,446.27 103.04,445.91 104.48,445.53 106.02,445.13 107.67,444.73 109.39,444.33 111.18,443.95 113.00,443.60 114.88,443.27 116.86,442.95 118.91,442.63 121.03,442.33 123.20,442.04 125.43,441.75 127.70,441.47 130.00,441.20 132.36,440.94 134.79,440.69 137.28,440.44 139.81,440.21 142.37,439.98 144.93,439.75 147.48,439.52 150.00,439.30 152.49,439.08 154.96,438.86 157.43,438.64 159.90,438.43 162.38,438.21 164.89,438.01 167.42,437.80 170.00,437.60 172.75,437.39 175.74,437.18 178.83,436.96 181.90,436.75 184.84,436.55 187.51,436.37 189.81,436.22 191.60,436.10 192.84,436.02 193.61,435.98 194.01,435.97 194.15,435.98 194.12,436.00 194.02,436.03 193.95,436.05 194.00,436.05" fill="none" stroke="#1a6fd6" stroke-width="1.75" stroke-linejoin="round"/>
<path d="M30.50,505.20 30.65,505.45 30.85,505.79 31.09,506.20 31.36,506.64 31.64,507.12 31.93,507.60 32.22,508.06 32.50,508.50 32.78,508.93 33.06,509.38 33.35,509.85 33.65,510.31 33.95,510.75 34.24,511.15 34.52,511.51 34.80,511.80 35.06,512.03 35.32,512.22 35.56,512.38 35.81,512.49 36.05,512.56 36.29,512.61 36.54,512.62 36.80,512.60 37.06,512.57 37.33,512.53 37.60,512.46 37.87,512.36 38.14,512.21 38.42,511.99 38.71,511.69 39.00,511.30 39.30,510.82 39.60,510.25 39.92,509.62 40.23,508.91 40.55,508.14 40.87,507.32 41.19,506.43 41.50,505.50 41.81,504.50 42.10,503.41 42.39,502.25 42.69,501.04 42.99,499.80 43.30,498.53 43.64,497.26 44.00,496.00 44.39,494.73 44.79,493.41 45.22,492.07 45.66,490.72 46.11,489.37 46.57,488.04 47.03,486.75 47.50,485.50 47.98,484.28 48.48,483.06 48.99,481.85 49.50,480.68 50.01,479.54 50.52,478.45 51.02,477.44 51.50,476.50 51.95,475.66 52.38,474.90 52.78,474.21 53.19,473.57 53.60,472.97 54.03,472.39 54.49,471.80 55.00,471.20 55.55,470.60 56.12,470.02 56.72,469.45 57.34,468.90 57.99,468.35 58.64,467.78 59.32,467.20 60.00,466.60 60.72,465.95 61.48,465.27 62.26,464.55 63.06,463.84 63.85,463.14 64.62,462.47 65.34,461.85 66.00,461.30 66.61,460.82 67.18,460.38 67.73,459.98 68.24,459.62 68.72,459.30 69.17,459.01 69.60,458.74 70.00,458.50 70.36,458.28 70.67,458.09 70.95,457.93 71.21,457.80 71.45,457.70 71.69,457.63 71.93,457.60 72.20,457.60 72.49,457.63 72.78,457.67 73.08,457.74 73.38,457.85 73.67,458.00 73.96,458.20 74.24,458.47 74.50,458.80 74.75,459.19 74.99,459.64 75.22,460.14 75.45,460.69 75.67,461.31 75.88,461.98 76.09,462.71 76.30,463.50 76.50,464.34 76.70,465.23 76.89,466.17 77.08,467.17 77.26,468.24 77.44,469.40 77.62,470.65 77.80,472.00 77.98,473.49 78.16,475.11 78.34,476.85 78.52,478.66 78.69,480.51 78.87,482.37 79.04,484.21 79.20,486.00 79.36,487.79 79.52,489.62 79.68,491.48 79.83,493.32 79.98,495.13 80.13,496.87 80.27,498.50 80.40,500.00 80.53,501.47 80.64,502.98 80.76,504.45 80.86,505.83 80.97,507.02 81.08,507.96 81.18,508.58 81.30,508.80 81.42,508.58 81.54,507.98 81.67,507.06 81.79,505.89 81.92,504.53 82.05,503.05 82.17,501.52 82.30,500.00 82.42,498.43 82.54,496.71 82.66,494.87 82.78,492.95 82.90,490.97 83.03,488.97 83.16,486.97 83.30,485.00 83.45,483.00 83.59,480.91 83.75,478.77 83.91,476.62 84.07,474.53 84.24,472.53 84.42,470.67 84.60,469.00 84.79,467.51 84.99,466.16 85.19,464.94 85.39,463.81 85.61,462.77 85.83,461.80 86.06,460.89 86.30,460.00 86.54,459.18 86.78,458.45 87.03,457.79 87.29,457.19 87.56,456.63 87.85,456.09 88.16,455.55 88.50,455.00 88.87,454.44 89.27,453.89 89.70,453.36 90.14,452.84 90.59,452.35 91.06,451.87 91.53,451.42 92.00,451.00 92.47,450.61 92.95,450.26 93.44,449.93 93.93,449.62 94.43,449.33 94.95,449.05 95.47,448.77 96.00,448.50 96.49,448.24 96.93,448.01 97.34,447.79 97.78,447.58 98.28,447.37 98.89,447.14 99.65,446.89 100.60,446.60 101.75,446.27 103.04,445.91 104.48,445.53 106.02,445.13 107.67,444.73 109.39,444.33 111.18,443.95 113.00,443.60 114.88,443.27 116.86,442.95 118.91,442.63 121.03,442.33 123.20,442.04 125.43,441.75 127.70,441.47 130.00,441.20 132.36,440.94 134.79,440.69 137.28,440.44 139.81,440.21 142.37,439.98 144.93,439.75 147.48,439.52 150.00,439.30 152.49,439.08 154.96,438.86 157.43,438.64 159.90,438.43 162.38,438.21 164.89,438.01 167.42,437.80 170.00,437.60 172.75,437.39 175.74,437.18 178.83,436.96 181.90,436.75 184.84,436.55 187.51,436.37 189.81,436.22 191.60,436.10 192.84,436.02 193.61,435.98 194.01,435.97 194.15,435.98 194.12,436.00 194.02,436.03 193.95,436.05 194.00,436.05" fill="none" stroke="#ffad00" stroke-width="1.75" stroke-linejoin="round" stroke-dasharray="5.2 2.8"/>
</g>
<rect x="30.80" y="429.00" width="160.60" height="95.60" fill="none" stroke="#505050" stroke-width="1.40"/>
<line x1="30.80" y1="524.60" x2="30.80" y2="523.10" stroke="#505050" stroke-width="0.8"/>
<line x1="70.95" y1="524.60" x2="70.95" y2="523.10" stroke="#505050" stroke-width="0.8"/>
<line x1="111.10" y1="524.60" x2="111.10" y2="523.10" stroke="#505050" stroke-width="0.8"/>
<line x1="151.25" y1="524.60" x2="151.25" y2="523.10" stroke="#505050" stroke-width="0.8"/>
<line x1="191.40" y1="524.60" x2="191.40" y2="523.10" stroke="#505050" stroke-width="0.8"/>
<text x="25.60" y="436.00" font-size="10.00" text-anchor="end" font-weight="bold" font-style="normal" fill="#111">1</text>
<text x="30.50" y="449.10" font-size="10.30" text-anchor="end" font-weight="bold" font-style="normal" fill="#111">0.9</text>
<line x1="30.80" y1="448.10" x2="32.30" y2="448.10" stroke="#505050" stroke-width="0.8"/>
<text x="30.50" y="468.20" font-size="10.30" text-anchor="end" font-weight="bold" font-style="normal" fill="#111">0.8</text>
<line x1="30.80" y1="467.20" x2="32.30" y2="467.20" stroke="#505050" stroke-width="0.8"/>
<text x="30.50" y="487.40" font-size="10.30" text-anchor="end" font-weight="bold" font-style="normal" fill="#111">0.7</text>
<line x1="30.80" y1="486.40" x2="32.30" y2="486.40" stroke="#505050" stroke-width="0.8"/>
<text x="30.50" y="506.50" font-size="10.30" text-anchor="end" font-weight="bold" font-style="normal" fill="#111">0.6</text>
<line x1="30.80" y1="505.50" x2="32.30" y2="505.50" stroke="#505050" stroke-width="0.8"/>
<text x="30.50" y="525.60" font-size="10.30" text-anchor="end" font-weight="bold" font-style="normal" fill="#111">0.5</text>
<line x1="30.80" y1="524.60" x2="32.30" y2="524.60" stroke="#505050" stroke-width="0.8"/>
<text x="6.00" y="431.70" font-size="10.00" text-anchor="start" font-weight="bold" font-style="normal" fill="#111">(e)</text>
<text x="15.40" y="475.10" font-size="10.40" text-anchor="middle" font-weight="bold" font-style="normal" fill="#111" transform="rotate(-90 15.40 475.10)" textLength="68.00" lengthAdjust="spacingAndGlyphs">Reflection[a.u.]</text>
<line x1="133.20" y1="495.10" x2="148.90" y2="495.10" stroke="#1fa640" stroke-width="1.45"/>
<text x="150.00" y="497.90" font-size="7.90" text-anchor="start" font-weight="bold" font-style="normal" fill="#111" textLength="37.60" lengthAdjust="spacingAndGlyphs">0 nm(real)</text>
<line x1="133.20" y1="502.90" x2="148.90" y2="502.90" stroke="#ff1010" stroke-width="1.45" stroke-dasharray="5.8 2.3"/>
<text x="150.00" y="505.70" font-size="7.90" text-anchor="start" font-weight="bold" font-style="normal" fill="#111" textLength="40.40" lengthAdjust="spacingAndGlyphs">0 nm(pred)</text>
<line x1="133.20" y1="510.70" x2="148.90" y2="510.70" stroke="#1a6fd6" stroke-width="1.45"/>
<text x="150.00" y="513.50" font-size="7.90" text-anchor="start" font-weight="bold" font-style="normal" fill="#111" textLength="37.60" lengthAdjust="spacingAndGlyphs">1 nm(real)</text>
<line x1="133.20" y1="518.50" x2="148.90" y2="518.50" stroke="#ffad00" stroke-width="1.45" stroke-dasharray="5.8 2.3"/>
<text x="150.00" y="521.30" font-size="7.90" text-anchor="start" font-weight="bold" font-style="normal" fill="#111" textLength="40.40" lengthAdjust="spacingAndGlyphs">1 nm(pred)</text>
<text x="30.50" y="534.20" font-size="10.00" text-anchor="middle" font-weight="bold" font-style="normal" fill="#111">500</text>
<text x="70.72" y="534.20" font-size="10.00" text-anchor="middle" font-weight="bold" font-style="normal" fill="#111">600</text>
<text x="110.95" y="534.20" font-size="10.00" text-anchor="middle" font-weight="bold" font-style="normal" fill="#111">700</text>
<text x="151.18" y="534.20" font-size="10.00" text-anchor="middle" font-weight="bold" font-style="normal" fill="#111">800</text>
<text x="191.40" y="534.20" font-size="10.00" text-anchor="middle" font-weight="bold" font-style="normal" fill="#111">900</text>
<text x="117.50" y="543.70" font-size="10.50" text-anchor="middle" font-weight="bold" font-style="normal" fill="#111" textLength="75.00" lengthAdjust="spacingAndGlyphs">Wavelength[nm]</text>
<g transform="matrix(1.00000 0 0 1 -0.000 0)">
<rect x="228.90" y="92.34" width="9.30" height="19.66" fill="#5293d6"/>
<rect x="239.75" y="74.39" width="9.30" height="37.61" fill="#eb7a2e"/>
<rect x="250.60" y="73.11" width="9.30" height="38.89" fill="#a6a6a6"/>
<rect x="261.45" y="52.15" width="9.30" height="59.85" fill="#7cc144"/>
<rect x="276.10" y="107.92" width="9.30" height="4.08" fill="#5293d6"/>
<rect x="286.95" y="72.14" width="9.30" height="39.86" fill="#eb7a2e"/>
<rect x="297.80" y="99.32" width="9.30" height="12.68" fill="#a6a6a6"/>
<rect x="308.65" y="39.05" width="9.30" height="72.95" fill="#7cc144"/>
<rect x="323.30" y="22.93" width="9.30" height="89.07" fill="#5293d6"/>
<rect x="334.15" y="22.93" width="9.30" height="89.07" fill="#eb7a2e"/>
<rect x="345.00" y="23.25" width="9.30" height="88.75" fill="#a6a6a6"/>
<rect x="355.85" y="20.67" width="9.30" height="91.33" fill="#7cc144"/>
<text x="233.55" y="92.10" font-size="7.80" text-anchor="middle" font-weight="bold" font-style="normal" fill="#111">33.3</text>
<text x="244.40" y="74.70" font-size="7.80" text-anchor="middle" font-weight="bold" font-style="normal" fill="#111">50</text>
<text x="255.25" y="74.70" font-size="7.80" text-anchor="middle" font-weight="bold" font-style="normal" fill="#111">51.2</text>
<text x="266.10" y="52.70" font-size="7.80" text-anchor="middle" font-weight="bold" font-style="normal" fill="#111">70.7</text>
<text x="278.90" y="108.10" font-size="7.80" text-anchor="middle" font-weight="bold" font-style="normal" fill="#111">18.8</text>
<text x="291.60" y="73.40" font-size="7.80" text-anchor="middle" font-weight="bold" font-style="normal" fill="#111">52.1</text>
<text x="302.45" y="98.60" font-size="7.80" text-anchor="middle" font-weight="bold" font-style="normal" fill="#111">26.8</text>
<text x="313.30" y="39.40" font-size="7.80" text-anchor="middle" font-weight="bold" font-style="normal" fill="#111">82.9</text>
<text x="327.95" y="28.40" font-size="7.80" text-anchor="middle" font-weight="bold" font-style="normal" fill="#111">97.9</text>
<text x="338.80" y="22.10" font-size="7.80" text-anchor="middle" font-weight="bold" font-style="normal" fill="#111">97.9</text>
<text x="349.65" y="28.40" font-size="7.80" text-anchor="middle" font-weight="bold" font-style="normal" fill="#111">97.6</text>
<text x="360.50" y="21.50" font-size="7.80" text-anchor="middle" font-weight="bold" font-style="normal" fill="#111">100</text>
<path d="M233.55,105.40 L235.85,107.70 L233.55,110.00 L231.25,107.70 Z" fill="#1818a8"/>
<text x="233.55" y="105.70" font-size="7.20" text-anchor="middle" font-weight="bold" font-style="italic" fill="#222">0.07</text>
<path d="M244.40,105.40 L246.70,107.70 L244.40,110.00 L242.10,107.70 Z" fill="#e0101c"/>
<text x="244.40" y="105.70" font-size="7.20" text-anchor="middle" font-weight="bold" font-style="italic" fill="#222">0.07</text>
<path d="M255.25,105.60 L257.55,107.90 L255.25,110.20 L252.95,107.90 Z" fill="#404040"/>
<text x="255.25" y="100.10" font-size="7.20" text-anchor="middle" font-weight="bold" font-style="italic" fill="#222">0.07</text>
<path d="M266.10,105.60 L268.40,107.90 L266.10,110.20 L263.80,107.90 Z" fill="#0e7a40"/>
<text x="266.10" y="105.70" font-size="7.20" text-anchor="middle" font-weight="bold" font-style="italic" fill="#222">0.06</text>
<path d="M280.75,98.30 L283.05,100.60 L280.75,102.90 L278.45,100.60 Z" fill="#1818a8"/>
<text x="277.00" y="98.80" font-size="7.20" text-anchor="middle" font-weight="bold" font-style="italic" fill="#222">0.17</text>
<path d="M291.60,100.30 L293.90,102.60 L291.60,104.90 L289.30,102.60 Z" fill="#e0101c"/>
<text x="291.60" y="96.90" font-size="7.20" text-anchor="middle" font-weight="bold" font-style="italic" fill="#222">0.17</text>
<path d="M302.45,99.30 L304.75,101.60 L302.45,103.90 L300.15,101.60 Z" fill="#404040"/>
<text x="302.45" y="107.90" font-size="7.20" text-anchor="middle" font-weight="bold" font-style="italic" fill="#222">0.17</text>
<path d="M313.30,99.30 L315.60,101.60 L313.30,103.90 L311.00,101.60 Z" fill="#0e7a40"/>
<text x="314.40" y="110.80" font-size="7.20" text-anchor="middle" font-weight="bold" font-style="italic" fill="#222">0.16</text>
<path d="M327.95,35.30 L330.25,37.60 L327.95,39.90 L325.65,37.60 Z" fill="#1818a8"/>
<text x="327.95" y="44.50" font-size="7.20" text-anchor="middle" font-weight="bold" font-style="italic" fill="#222">2.31</text>
<path d="M338.80,25.90 L341.10,28.20 L338.80,30.50 L336.50,28.20 Z" fill="#e0101c"/>
<text x="338.80" y="36.30" font-size="7.20" text-anchor="middle" font-weight="bold" font-style="italic" fill="#222">2.58</text>
<path d="M349.65,55.40 L351.95,57.70 L349.65,60.00 L347.35,57.70 Z" fill="#404040"/>
<text x="349.65" y="54.60" font-size="7.20" text-anchor="middle" font-weight="bold" font-style="italic" fill="#222">1.55</text>
<path d="M360.50,60.40 L362.80,62.70 L360.50,65.00 L358.20,62.70 Z" fill="#0e7a40"/>
<text x="360.50" y="60.80" font-size="7.20" text-anchor="middle" font-weight="bold" font-style="italic" fill="#222">1.27</text>
<rect x="226.30" y="15.30" width="141.20" height="96.70" fill="none" stroke="#505050" stroke-width="1.40"/>
<line x1="226.30" y1="111.00" x2="227.80" y2="111.00" stroke="#505050" stroke-width="0.8"/>
<text x="225.00" y="112.10" font-size="10.00" text-anchor="end" font-weight="bold" font-style="normal" fill="#111">15</text>
<line x1="226.30" y1="95.30" x2="227.80" y2="95.30" stroke="#505050" stroke-width="0.8"/>
<text x="225.00" y="96.40" font-size="10.00" text-anchor="end" font-weight="bold" font-style="normal" fill="#111">30</text>
<line x1="226.30" y1="79.60" x2="227.80" y2="79.60" stroke="#505050" stroke-width="0.8"/>
<text x="225.00" y="80.70" font-size="10.00" text-anchor="end" font-weight="bold" font-style="normal" fill="#111">45</text>
<line x1="226.30" y1="63.80" x2="227.80" y2="63.80" stroke="#505050" stroke-width="0.8"/>
<text x="225.00" y="64.90" font-size="10.00" text-anchor="end" font-weight="bold" font-style="normal" fill="#111">60</text>
<line x1="226.30" y1="48.10" x2="227.80" y2="48.10" stroke="#505050" stroke-width="0.8"/>
<text x="225.00" y="49.20" font-size="10.00" text-anchor="end" font-weight="bold" font-style="normal" fill="#111">75</text>
<line x1="226.30" y1="32.30" x2="227.80" y2="32.30" stroke="#505050" stroke-width="0.8"/>
<text x="225.00" y="33.40" font-size="10.00" text-anchor="end" font-weight="bold" font-style="normal" fill="#111">90</text>
<line x1="367.50" y1="110.60" x2="366.00" y2="110.60" stroke="#505050" stroke-width="0.8"/>
<text x="369.50" y="111.50" font-size="10.00" text-anchor="start" font-weight="bold" font-style="normal" fill="#111">0</text>
<line x1="367.50" y1="80.70" x2="366.00" y2="80.70" stroke="#505050" stroke-width="0.8"/>
<text x="369.50" y="81.60" font-size="10.00" text-anchor="start" font-weight="bold" font-style="normal" fill="#111">0.5</text>
<line x1="367.50" y1="48.90" x2="366.00" y2="48.90" stroke="#505050" stroke-width="0.8"/>
<text x="369.50" y="49.80" font-size="10.00" text-anchor="start" font-weight="bold" font-style="normal" fill="#111">2.0</text>
<line x1="367.50" y1="21.00" x2="366.00" y2="21.00" stroke="#505050" stroke-width="0.8"/>
<text x="369.50" y="21.90" font-size="10.00" text-anchor="start" font-weight="bold" font-style="normal" fill="#111">3.0</text>
<text x="202.90" y="23.10" font-size="10.00" text-anchor="start" font-weight="bold" font-style="normal" fill="#111">(f)</text>
<text x="212.20" y="65.05" font-size="10.50" text-anchor="middle" font-weight="bold" font-style="normal" fill="#111" transform="rotate(-90 212.20 65.05)" textLength="56.80" lengthAdjust="spacingAndGlyphs">Success Rate</text>
<text x="389.90" y="64.75" font-size="10.30" text-anchor="middle" font-weight="bold" font-style="normal" fill="#111" transform="rotate(-90 389.90 64.75)" textLength="33.50" lengthAdjust="spacingAndGlyphs">Time[s]</text>
<rect x="228.1" y="17.60" width="6.0" height="5.4" fill="#5293d6"/>
<path d="M231.10,18.20 L233.20,20.30 L231.10,22.40 L229.00,20.30 Z" fill="#1818a8"/>
<text x="235.90" y="23.00" font-size="7.70" text-anchor="start" font-weight="bold" font-style="normal" fill="#111" textLength="61.60" lengthAdjust="spacingAndGlyphs">0 nm, without DE</text>
<rect x="228.1" y="24.50" width="6.0" height="5.4" fill="#eb7a2e"/>
<path d="M231.10,25.10 L233.20,27.20 L231.10,29.30 L229.00,27.20 Z" fill="#e0101c"/>
<text x="235.90" y="29.90" font-size="7.70" text-anchor="start" font-weight="bold" font-style="normal" fill="#111" textLength="50.20" lengthAdjust="spacingAndGlyphs">0 nm, with DE</text>
<rect x="228.1" y="31.40" width="6.0" height="5.4" fill="#a6a6a6"/>
<path d="M231.10,32.00 L233.20,34.10 L231.10,36.20 L229.00,34.10 Z" fill="#404040"/>
<text x="235.90" y="36.80" font-size="7.70" text-anchor="start" font-weight="bold" font-style="normal" fill="#111" textLength="61.60" lengthAdjust="spacingAndGlyphs">1 nm, without DE</text>
<rect x="228.1" y="38.30" width="6.0" height="5.4" fill="#7cc144"/>
<path d="M231.10,38.90 L233.20,41.00 L231.10,43.10 L229.00,41.00 Z" fill="#0e7a40"/>
<text x="235.90" y="43.70" font-size="7.70" text-anchor="start" font-weight="bold" font-style="normal" fill="#111" textLength="50.20" lengthAdjust="spacingAndGlyphs">1 nm, with DE</text>
</g>
<g transform="matrix(1.00000 0 0 1 -0.000 0)">
<rect x="228.90" y="199.33" width="9.30" height="16.27" fill="#5293d6"/>
<rect x="239.75" y="188.49" width="9.30" height="27.11" fill="#eb7a2e"/>
<rect x="250.60" y="188.38" width="9.30" height="27.22" fill="#a6a6a6"/>
<rect x="261.45" y="172.87" width="9.30" height="42.73" fill="#7cc144"/>
<rect x="276.10" y="212.89" width="9.30" height="2.71" fill="#5293d6"/>
<rect x="286.95" y="183.07" width="9.30" height="32.53" fill="#eb7a2e"/>
<rect x="297.80" y="172.87" width="9.30" height="42.73" fill="#a6a6a6"/>
<rect x="308.65" y="152.92" width="9.30" height="62.68" fill="#7cc144"/>
<rect x="323.30" y="139.69" width="9.30" height="75.91" fill="#5293d6"/>
<rect x="334.15" y="139.69" width="9.30" height="75.91" fill="#eb7a2e"/>
<rect x="345.00" y="146.30" width="9.30" height="69.30" fill="#a6a6a6"/>
<rect x="355.85" y="139.69" width="9.30" height="75.91" fill="#7cc144"/>
<text x="233.55" y="198.80" font-size="7.80" text-anchor="middle" font-weight="bold" font-style="normal" fill="#111">45</text>
<text x="244.40" y="188.30" font-size="7.80" text-anchor="middle" font-weight="bold" font-style="normal" fill="#111">55</text>
<text x="255.25" y="188.30" font-size="7.80" text-anchor="middle" font-weight="bold" font-style="normal" fill="#111">55.1</text>
<text x="266.10" y="173.00" font-size="7.80" text-anchor="middle" font-weight="bold" font-style="normal" fill="#111">69.4</text>
<text x="280.75" y="214.10" font-size="7.80" text-anchor="middle" font-weight="bold" font-style="normal" fill="#111">32.5</text>
<text x="291.60" y="182.60" font-size="7.80" text-anchor="middle" font-weight="bold" font-style="normal" fill="#111">60</text>
<text x="302.45" y="173.00" font-size="7.80" text-anchor="middle" font-weight="bold" font-style="normal" fill="#111">69.4</text>
<text x="313.30" y="153.00" font-size="7.80" text-anchor="middle" font-weight="bold" font-style="normal" fill="#111">87.8</text>
<text x="327.95" y="139.10" font-size="7.80" text-anchor="middle" font-weight="bold" font-style="normal" fill="#111">100</text>
<text x="338.80" y="139.10" font-size="7.80" text-anchor="middle" font-weight="bold" font-style="normal" fill="#111">100</text>
<text x="349.65" y="146.30" font-size="7.80" text-anchor="middle" font-weight="bold" font-style="normal" fill="#111">93.9</text>
<text x="360.50" y="139.10" font-size="7.80" text-anchor="middle" font-weight="bold" font-style="normal" fill="#111">100</text>
<path d="M233.55,209.10 L235.85,211.40 L233.55,213.70 L231.25,211.40 Z" fill="#1818a8"/>
<text x="233.55" y="209.10" font-size="7.20" text-anchor="middle" font-weight="bold" font-style="italic" fill="#222">0.07</text>
<path d="M244.40,209.10 L246.70,211.40 L244.40,213.70 L242.10,211.40 Z" fill="#e0101c"/>
<text x="244.40" y="203.40" font-size="7.20" text-anchor="middle" font-weight="bold" font-style="italic" fill="#222">0.07</text>
<path d="M255.25,209.10 L257.55,211.40 L255.25,213.70 L252.95,211.40 Z" fill="#404040"/>
<text x="255.25" y="208.70" font-size="7.20" text-anchor="middle" font-weight="bold" font-style="italic" fill="#222">0.07</text>
<path d="M266.10,209.10 L268.40,211.40 L266.10,213.70 L263.80,211.40 Z" fill="#0e7a40"/>
<text x="266.10" y="203.00" font-size="7.20" text-anchor="middle" font-weight="bold" font-style="italic" fill="#222">0.07</text>
<path d="M280.75,202.00 L283.05,204.30 L280.75,206.60 L278.45,204.30 Z" fill="#1818a8"/>
<text x="280.75" y="203.00" font-size="7.20" text-anchor="middle" font-weight="bold" font-style="italic" fill="#222">0.17</text>
<path d="M291.60,203.30 L293.90,205.60 L291.60,207.90 L289.30,205.60 Z" fill="#e0101c"/>
<text x="291.60" y="203.00" font-size="7.20" text-anchor="middle" font-weight="bold" font-style="italic" fill="#222">0.16</text>
<path d="M302.45,202.40 L304.75,204.70 L302.45,207.00 L300.15,204.70 Z" fill="#404040"/>
<text x="302.45" y="212.00" font-size="7.20" text-anchor="middle" font-weight="bold" font-style="italic" fill="#222">0.16</text>
<path d="M313.30,202.80 L315.60,205.10 L313.30,207.40 L311.00,205.10 Z" fill="#0e7a40"/>
<text x="313.30" y="203.40" font-size="7.20" text-anchor="middle" font-weight="bold" font-style="italic" fill="#222">0.16</text>
<path d="M327.95,152.20 L330.25,154.50 L327.95,156.80 L325.65,154.50 Z" fill="#1818a8"/>
<text x="327.95" y="162.70" font-size="7.20" text-anchor="middle" font-weight="bold" font-style="italic" fill="#222">1.81</text>
<path d="M338.80,158.50 L341.10,160.80 L338.80,163.10 L336.50,160.80 Z" fill="#e0101c"/>
<text x="338.80" y="168.60" font-size="7.20" text-anchor="middle" font-weight="bold" font-style="italic" fill="#222">1.51</text>
<path d="M349.65,128.30 L351.95,130.60 L349.65,132.90 L347.35,130.60 Z" fill="#404040"/>
<text x="349.65" y="128.60" font-size="7.20" text-anchor="middle" font-weight="bold" font-style="italic" fill="#222">2.61</text>
<path d="M360.50,148.00 L362.80,150.30 L360.50,152.60 L358.20,150.30 Z" fill="#0e7a40"/>
<text x="360.50" y="158.00" font-size="7.20" text-anchor="middle" font-weight="bold" font-style="italic" fill="#222">1.99</text>
<rect x="226.30" y="118.00" width="141.20" height="97.60" fill="none" stroke="#505050" stroke-width="1.40"/>
<line x1="226.30" y1="215.30" x2="227.80" y2="215.30" stroke="#505050" stroke-width="0.8"/>
<text x="225.00" y="216.40" font-size="10.00" text-anchor="end" font-weight="bold" font-style="normal" fill="#111">30</text>
<line x1="226.30" y1="199.60" x2="227.80" y2="199.60" stroke="#505050" stroke-width="0.8"/>
<text x="225.00" y="200.70" font-size="10.00" text-anchor="end" font-weight="bold" font-style="normal" fill="#111">45</text>
<line x1="226.30" y1="183.50" x2="227.80" y2="183.50" stroke="#505050" stroke-width="0.8"/>
<text x="225.00" y="184.60" font-size="10.00" text-anchor="end" font-weight="bold" font-style="normal" fill="#111">60</text>
<line x1="226.30" y1="167.30" x2="227.80" y2="167.30" stroke="#505050" stroke-width="0.8"/>
<text x="225.00" y="168.40" font-size="10.00" text-anchor="end" font-weight="bold" font-style="normal" fill="#111">75</text>
<line x1="226.30" y1="151.30" x2="227.80" y2="151.30" stroke="#505050" stroke-width="0.8"/>
<text x="225.00" y="152.40" font-size="10.00" text-anchor="end" font-weight="bold" font-style="normal" fill="#111">90</text>
<line x1="226.30" y1="135.30" x2="227.80" y2="135.30" stroke="#505050" stroke-width="0.8"/>
<text x="225.00" y="136.40" font-size="10.00" text-anchor="end" font-weight="bold" font-style="normal" fill="#111">105</text>
<line x1="367.50" y1="214.30" x2="366.00" y2="214.30" stroke="#505050" stroke-width="0.8"/>
<text x="369.50" y="215.20" font-size="10.00" text-anchor="start" font-weight="bold" font-style="normal" fill="#111">0</text>
<line x1="367.50" y1="183.30" x2="366.00" y2="183.30" stroke="#505050" stroke-width="0.8"/>
<text x="369.50" y="184.20" font-size="10.00" text-anchor="start" font-weight="bold" font-style="normal" fill="#111">0.5</text>
<line x1="367.50" y1="151.80" x2="366.00" y2="151.80" stroke="#505050" stroke-width="0.8"/>
<text x="369.50" y="152.70" font-size="10.00" text-anchor="start" font-weight="bold" font-style="normal" fill="#111">2.0</text>
<line x1="367.50" y1="123.80" x2="366.00" y2="123.80" stroke="#505050" stroke-width="0.8"/>
<text x="369.50" y="124.70" font-size="10.00" text-anchor="start" font-weight="bold" font-style="normal" fill="#111">3.0</text>
<text x="202.90" y="125.80" font-size="10.00" text-anchor="start" font-weight="bold" font-style="normal" fill="#111">(g)</text>
<text x="212.20" y="164.80" font-size="10.50" text-anchor="middle" font-weight="bold" font-style="normal" fill="#111" transform="rotate(-90 212.20 164.80)" textLength="56.80" lengthAdjust="spacingAndGlyphs">Success Rate</text>
<text x="389.90" y="164.70" font-size="10.30" text-anchor="middle" font-weight="bold" font-style="normal" fill="#111" transform="rotate(-90 389.90 164.70)" textLength="33.50" lengthAdjust="spacingAndGlyphs">Time[s]</text>
<rect x="228.1" y="120.30" width="6.0" height="5.4" fill="#5293d6"/>
<path d="M231.10,120.90 L233.20,123.00 L231.10,125.10 L229.00,123.00 Z" fill="#1818a8"/>
<text x="235.90" y="125.70" font-size="7.70" text-anchor="start" font-weight="bold" font-style="normal" fill="#111" textLength="61.60" lengthAdjust="spacingAndGlyphs">0 nm, without DE</text>
<rect x="228.1" y="127.20" width="6.0" height="5.4" fill="#eb7a2e"/>
<path d="M231.10,127.80 L233.20,129.90 L231.10,132.00 L229.00,129.90 Z" fill="#e0101c"/>
<text x="235.90" y="132.60" font-size="7.70" text-anchor="start" font-weight="bold" font-style="normal" fill="#111" textLength="50.20" lengthAdjust="spacingAndGlyphs">0 nm, with DE</text>
<rect x="228.1" y="134.10" width="6.0" height="5.4" fill="#a6a6a6"/>
<path d="M231.10,134.70 L233.20,136.80 L231.10,138.90 L229.00,136.80 Z" fill="#404040"/>
<text x="235.90" y="139.50" font-size="7.70" text-anchor="start" font-weight="bold" font-style="normal" fill="#111" textLength="61.60" lengthAdjust="spacingAndGlyphs">1 nm, without DE</text>
<rect x="228.1" y="141.00" width="6.0" height="5.4" fill="#7cc144"/>
<path d="M231.10,141.60 L233.20,143.70 L231.10,145.80 L229.00,143.70 Z" fill="#0e7a40"/>
<text x="235.90" y="146.40" font-size="7.70" text-anchor="start" font-weight="bold" font-style="normal" fill="#111" textLength="50.20" lengthAdjust="spacingAndGlyphs">1 nm, with DE</text>
</g>
<g transform="matrix(1.00620 0 0 1 -1.403 0)">
<rect x="228.90" y="297.22" width="9.30" height="21.98" fill="#5293d6"/>
<rect x="239.75" y="275.34" width="9.30" height="43.86" fill="#eb7a2e"/>
<rect x="250.60" y="309.43" width="9.30" height="9.77" fill="#a6a6a6"/>
<rect x="261.45" y="267.91" width="9.30" height="51.29" fill="#7cc144"/>
<rect x="276.10" y="315.21" width="9.30" height="3.99" fill="#5293d6"/>
<rect x="286.95" y="301.23" width="9.30" height="17.97" fill="#eb7a2e"/>
<rect x="297.80" y="314.32" width="9.30" height="4.88" fill="#a6a6a6"/>
<rect x="308.65" y="275.24" width="9.30" height="43.96" fill="#7cc144"/>
<rect x="323.30" y="253.36" width="9.30" height="65.84" fill="#5293d6"/>
<rect x="334.15" y="235.48" width="9.30" height="83.72" fill="#eb7a2e"/>
<rect x="345.00" y="248.38" width="9.30" height="70.82" fill="#a6a6a6"/>
<rect x="355.85" y="236.16" width="9.30" height="83.04" fill="#7cc144"/>
<text x="233.55" y="297.00" font-size="7.80" text-anchor="middle" font-weight="bold" font-style="normal" fill="#111">22.5</text>
<text x="244.40" y="275.10" font-size="7.80" text-anchor="middle" font-weight="bold" font-style="normal" fill="#111">44.9</text>
<text x="255.25" y="308.90" font-size="7.80" text-anchor="middle" font-weight="bold" font-style="normal" fill="#111">10</text>
<text x="266.10" y="267.50" font-size="7.80" text-anchor="middle" font-weight="bold" font-style="normal" fill="#111">52.5</text>
<text x="282.70" y="319.00" font-size="7.80" text-anchor="middle" font-weight="bold" font-style="normal" fill="#111">4.08</text>
<text x="291.60" y="300.30" font-size="7.80" text-anchor="middle" font-weight="bold" font-style="normal" fill="#111">18.4</text>
<text x="305.90" y="318.70" font-size="7.80" text-anchor="middle" font-weight="bold" font-style="normal" fill="#111">5</text>
<text x="313.30" y="275.10" font-size="7.80" text-anchor="middle" font-weight="bold" font-style="normal" fill="#111">45</text>
<text x="327.95" y="253.10" font-size="7.80" text-anchor="middle" font-weight="bold" font-style="normal" fill="#111">67.4</text>
<text x="338.80" y="235.00" font-size="7.80" text-anchor="middle" font-weight="bold" font-style="normal" fill="#111">85.7</text>
<text x="349.65" y="248.40" font-size="7.80" text-anchor="middle" font-weight="bold" font-style="normal" fill="#111">72.5</text>
<text x="360.50" y="235.60" font-size="7.80" text-anchor="middle" font-weight="bold" font-style="normal" fill="#111">85</text>
<path d="M233.55,314.00 L235.85,316.30 L233.55,318.60 L231.25,316.30 Z" fill="#1818a8"/>
<text x="233.55" y="313.10" font-size="7.20" text-anchor="middle" font-weight="bold" font-style="italic" fill="#222">0.07</text>
<path d="M244.40,314.00 L246.70,316.30 L244.40,318.60 L242.10,316.30 Z" fill="#e0101c"/>
<text x="244.40" y="307.00" font-size="7.20" text-anchor="middle" font-weight="bold" font-style="italic" fill="#222">0.07</text>
<path d="M255.25,314.00 L257.55,316.30 L255.25,318.60 L252.95,316.30 Z" fill="#404040"/>
<text x="255.25" y="314.00" font-size="7.20" text-anchor="middle" font-weight="bold" font-style="italic" fill="#222">0.07</text>
<path d="M266.10,314.00 L268.40,316.30 L266.10,318.60 L263.80,316.30 Z" fill="#0e7a40"/>
<text x="266.10" y="307.30" font-size="7.20" text-anchor="middle" font-weight="bold" font-style="italic" fill="#222">0.06</text>
<path d="M280.75,310.20 L283.05,312.50 L280.75,314.80 L278.45,312.50 Z" fill="#1818a8"/>
<text x="280.75" y="310.20" font-size="7.20" text-anchor="middle" font-weight="bold" font-style="italic" fill="#222">0.17</text>
<path d="M291.60,310.20 L293.90,312.50 L291.60,314.80 L289.30,312.50 Z" fill="#e0101c"/>
<text x="291.60" y="306.40" font-size="7.20" text-anchor="middle" font-weight="bold" font-style="italic" fill="#222">0.17</text>
<path d="M302.45,310.20 L304.75,312.50 L302.45,314.80 L300.15,312.50 Z" fill="#404040"/>
<text x="302.45" y="309.20" font-size="7.20" text-anchor="middle" font-weight="bold" font-style="italic" fill="#222">0.17</text>
<path d="M313.30,310.50 L315.60,312.80 L313.30,315.10 L311.00,312.80 Z" fill="#0e7a40"/>
<text x="313.30" y="309.20" font-size="7.20" text-anchor="middle" font-weight="bold" font-style="italic" fill="#222">0.16</text>
<path d="M327.95,222.00 L330.25,224.30 L327.95,226.60 L325.65,224.30 Z" fill="#1818a8"/>
<text x="319.60" y="228.10" font-size="7.20" text-anchor="middle" font-weight="bold" font-style="italic" fill="#222">5.24</text>
<path d="M338.80,261.50 L341.10,263.80 L338.80,266.10 L336.50,263.80 Z" fill="#e0101c"/>
<text x="338.80" y="271.60" font-size="7.20" text-anchor="middle" font-weight="bold" font-style="italic" fill="#222">3.03</text>
<path d="M349.65,259.20 L351.95,261.50 L349.65,263.80 L347.35,261.50 Z" fill="#404040"/>
<text x="349.65" y="259.60" font-size="7.20" text-anchor="middle" font-weight="bold" font-style="italic" fill="#222">3.2</text>
<path d="M360.50,271.60 L362.80,273.90 L360.50,276.20 L358.20,273.90 Z" fill="#0e7a40"/>
<text x="360.50" y="271.60" font-size="7.20" text-anchor="middle" font-weight="bold" font-style="italic" fill="#222">2.51</text>
<rect x="226.30" y="222.00" width="141.20" height="97.20" fill="none" stroke="#505050" stroke-width="1.40"/>
<line x1="226.30" y1="317.30" x2="227.80" y2="317.30" stroke="#505050" stroke-width="0.8"/>
<text x="225.00" y="318.40" font-size="10.00" text-anchor="end" font-weight="bold" font-style="normal" fill="#111">0</text>
<line x1="226.30" y1="300.60" x2="227.80" y2="300.60" stroke="#505050" stroke-width="0.8"/>
<text x="225.00" y="301.70" font-size="10.00" text-anchor="end" font-weight="bold" font-style="normal" fill="#111">20</text>
<line x1="226.30" y1="282.10" x2="227.80" y2="282.10" stroke="#505050" stroke-width="0.8"/>
<text x="225.00" y="283.20" font-size="10.00" text-anchor="end" font-weight="bold" font-style="normal" fill="#111">40</text>
<line x1="226.30" y1="261.80" x2="227.80" y2="261.80" stroke="#505050" stroke-width="0.8"/>
<text x="225.00" y="262.90" font-size="10.00" text-anchor="end" font-weight="bold" font-style="normal" fill="#111">60</text>
<line x1="226.30" y1="241.30" x2="227.80" y2="241.30" stroke="#505050" stroke-width="0.8"/>
<text x="225.00" y="242.40" font-size="10.00" text-anchor="end" font-weight="bold" font-style="normal" fill="#111">80</text>
<line x1="367.50" y1="317.30" x2="366.00" y2="317.30" stroke="#505050" stroke-width="0.8"/>
<text x="369.50" y="318.20" font-size="10.00" text-anchor="start" font-weight="bold" font-style="normal" fill="#111">0</text>
<line x1="367.50" y1="287.30" x2="366.00" y2="287.30" stroke="#505050" stroke-width="0.8"/>
<text x="369.50" y="288.20" font-size="10.00" text-anchor="start" font-weight="bold" font-style="normal" fill="#111">1.8</text>
<line x1="367.50" y1="255.30" x2="366.00" y2="255.30" stroke="#505050" stroke-width="0.8"/>
<text x="369.50" y="256.20" font-size="10.00" text-anchor="start" font-weight="bold" font-style="normal" fill="#111">3.6</text>
<line x1="367.50" y1="227.30" x2="366.00" y2="227.30" stroke="#505050" stroke-width="0.8"/>
<text x="369.50" y="228.20" font-size="10.00" text-anchor="start" font-weight="bold" font-style="normal" fill="#111">5.4</text>
<text x="202.90" y="229.80" font-size="10.00" text-anchor="start" font-weight="bold" font-style="normal" fill="#111">(h)</text>
<text x="212.20" y="268.40" font-size="10.50" text-anchor="middle" font-weight="bold" font-style="normal" fill="#111" transform="rotate(-90 212.20 268.40)" textLength="56.80" lengthAdjust="spacingAndGlyphs">Success Rate</text>
<text x="389.90" y="268.30" font-size="10.30" text-anchor="middle" font-weight="bold" font-style="normal" fill="#111" transform="rotate(-90 389.90 268.30)" textLength="33.50" lengthAdjust="spacingAndGlyphs">Time[s]</text>
<rect x="228.1" y="224.30" width="6.0" height="5.4" fill="#5293d6"/>
<path d="M231.10,224.90 L233.20,227.00 L231.10,229.10 L229.00,227.00 Z" fill="#1818a8"/>
<text x="235.90" y="229.70" font-size="7.70" text-anchor="start" font-weight="bold" font-style="normal" fill="#111" textLength="61.60" lengthAdjust="spacingAndGlyphs">0 nm, without DE</text>
<rect x="228.1" y="231.20" width="6.0" height="5.4" fill="#eb7a2e"/>
<path d="M231.10,231.80 L233.20,233.90 L231.10,236.00 L229.00,233.90 Z" fill="#e0101c"/>
<text x="235.90" y="236.60" font-size="7.70" text-anchor="start" font-weight="bold" font-style="normal" fill="#111" textLength="50.20" lengthAdjust="spacingAndGlyphs">0 nm, with DE</text>
<rect x="228.1" y="238.10" width="6.0" height="5.4" fill="#a6a6a6"/>
<path d="M231.10,238.70 L233.20,240.80 L231.10,242.90 L229.00,240.80 Z" fill="#404040"/>
<text x="235.90" y="243.50" font-size="7.70" text-anchor="start" font-weight="bold" font-style="normal" fill="#111" textLength="61.60" lengthAdjust="spacingAndGlyphs">1 nm, without DE</text>
<rect x="228.1" y="245.00" width="6.0" height="5.4" fill="#7cc144"/>
<path d="M231.10,245.60 L233.20,247.70 L231.10,249.80 L229.00,247.70 Z" fill="#0e7a40"/>
<text x="235.90" y="250.40" font-size="7.70" text-anchor="start" font-weight="bold" font-style="normal" fill="#111" textLength="50.20" lengthAdjust="spacingAndGlyphs">1 nm, with DE</text>
</g>
<g transform="matrix(1.00000 0 0 1 -0.000 0)">
<rect x="228.90" y="402.22" width="9.30" height="20.18" fill="#5293d6"/>
<rect x="239.75" y="377.97" width="9.30" height="44.43" fill="#eb7a2e"/>
<rect x="250.60" y="398.73" width="9.30" height="23.67" fill="#a6a6a6"/>
<rect x="261.45" y="379.81" width="9.30" height="42.59" fill="#7cc144"/>
<rect x="286.95" y="365.84" width="9.30" height="56.56" fill="#eb7a2e"/>
<rect x="297.80" y="384.57" width="9.30" height="37.83" fill="#a6a6a6"/>
<rect x="308.65" y="358.47" width="9.30" height="63.93" fill="#7cc144"/>
<rect x="323.30" y="343.53" width="9.30" height="78.87" fill="#5293d6"/>
<rect x="334.15" y="337.51" width="9.30" height="84.89" fill="#eb7a2e"/>
<rect x="345.00" y="339.55" width="9.30" height="82.85" fill="#a6a6a6"/>
<rect x="355.85" y="332.47" width="9.30" height="89.93" fill="#7cc144"/>
<text x="233.55" y="402.00" font-size="7.80" text-anchor="middle" font-weight="bold" font-style="normal" fill="#111">20.8</text>
<text x="244.40" y="377.60" font-size="7.80" text-anchor="middle" font-weight="bold" font-style="normal" fill="#111">45.8</text>
<text x="255.25" y="398.20" font-size="7.80" text-anchor="middle" font-weight="bold" font-style="normal" fill="#111">24.4</text>
<text x="266.10" y="379.50" font-size="7.80" text-anchor="middle" font-weight="bold" font-style="normal" fill="#111">43.9</text>
<text x="280.75" y="423.60" font-size="7.80" text-anchor="middle" font-weight="bold" font-style="normal" fill="#111">0</text>
<text x="291.60" y="365.30" font-size="7.80" text-anchor="middle" font-weight="bold" font-style="normal" fill="#111">58.3</text>
<text x="302.45" y="384.20" font-size="7.80" text-anchor="middle" font-weight="bold" font-style="normal" fill="#111">39</text>
<text x="313.30" y="358.10" font-size="7.80" text-anchor="middle" font-weight="bold" font-style="normal" fill="#111">65.9</text>
<text x="327.95" y="342.80" font-size="7.80" text-anchor="middle" font-weight="bold" font-style="normal" fill="#111">81.3</text>
<text x="338.80" y="336.50" font-size="7.80" text-anchor="middle" font-weight="bold" font-style="normal" fill="#111">87.5</text>
<text x="349.65" y="342.80" font-size="7.80" text-anchor="middle" font-weight="bold" font-style="normal" fill="#111">85.4</text>
<text x="360.50" y="332.00" font-size="7.80" text-anchor="middle" font-weight="bold" font-style="normal" fill="#111">92.7</text>
<path d="M233.55,417.60 L235.85,419.90 L233.55,422.20 L231.25,419.90 Z" fill="#1818a8"/>
<text x="233.55" y="417.60" font-size="7.20" text-anchor="middle" font-weight="bold" font-style="italic" fill="#222">0.07</text>
<path d="M244.40,417.60 L246.70,419.90 L244.40,422.20 L242.10,419.90 Z" fill="#e0101c"/>
<text x="244.40" y="411.90" font-size="7.20" text-anchor="middle" font-weight="bold" font-style="italic" fill="#222">0.09</text>
<path d="M255.25,417.60 L257.55,419.90 L255.25,422.20 L252.95,419.90 Z" fill="#404040"/>
<text x="255.25" y="418.00" font-size="7.20" text-anchor="middle" font-weight="bold" font-style="italic" fill="#222">0.07</text>
<path d="M266.10,417.60 L268.40,419.90 L266.10,422.20 L263.80,419.90 Z" fill="#0e7a40"/>
<text x="266.10" y="412.30" font-size="7.20" text-anchor="middle" font-weight="bold" font-style="italic" fill="#222">0.07</text>
<path d="M280.75,414.20 L283.05,416.50 L280.75,418.80 L278.45,416.50 Z" fill="#1818a8"/>
<text x="280.75" y="412.70" font-size="7.20" text-anchor="middle" font-weight="bold" font-style="italic" fill="#222">0.18</text>
<path d="M291.60,414.50 L293.90,416.80 L291.60,419.10 L289.30,416.80 Z" fill="#e0101c"/>
<text x="291.60" y="408.50" font-size="7.20" text-anchor="middle" font-weight="bold" font-style="italic" fill="#222">0.16</text>
<path d="M302.45,414.20 L304.75,416.50 L302.45,418.80 L300.15,416.50 Z" fill="#404040"/>
<text x="302.45" y="413.80" font-size="7.20" text-anchor="middle" font-weight="bold" font-style="italic" fill="#222">0.17</text>
<path d="M313.30,414.50 L315.60,416.80 L313.30,419.10 L311.00,416.80 Z" fill="#0e7a40"/>
<text x="313.30" y="408.50" font-size="7.20" text-anchor="middle" font-weight="bold" font-style="italic" fill="#222">0.16</text>
<path d="M327.95,330.20 L330.25,332.50 L327.95,334.80 L325.65,332.50 Z" fill="#1818a8"/>
<text x="318.70" y="336.00" font-size="7.20" text-anchor="middle" font-weight="bold" font-style="italic" fill="#222">5.52</text>
<path d="M338.80,351.80 L341.10,354.10 L338.80,356.40 L336.50,354.10 Z" fill="#e0101c"/>
<text x="338.80" y="351.60" font-size="7.20" text-anchor="middle" font-weight="bold" font-style="italic" fill="#222">4.21</text>
<path d="M349.65,368.40 L351.95,370.70 L349.65,373.00 L347.35,370.70 Z" fill="#404040"/>
<text x="349.65" y="368.80" font-size="7.20" text-anchor="middle" font-weight="bold" font-style="italic" fill="#222">3.17</text>
<path d="M360.50,382.10 L362.80,384.40 L360.50,386.70 L358.20,384.40 Z" fill="#0e7a40"/>
<text x="360.50" y="381.80" font-size="7.20" text-anchor="middle" font-weight="bold" font-style="italic" fill="#222">2.34</text>
<rect x="226.30" y="325.00" width="141.20" height="97.40" fill="none" stroke="#505050" stroke-width="1.40"/>
<line x1="226.30" y1="420.70" x2="227.80" y2="420.70" stroke="#505050" stroke-width="0.8"/>
<text x="225.00" y="421.80" font-size="10.00" text-anchor="end" font-weight="bold" font-style="normal" fill="#111">0</text>
<line x1="226.30" y1="403.30" x2="227.80" y2="403.30" stroke="#505050" stroke-width="0.8"/>
<text x="225.00" y="404.40" font-size="10.00" text-anchor="end" font-weight="bold" font-style="normal" fill="#111">20</text>
<line x1="226.30" y1="384.90" x2="227.80" y2="384.90" stroke="#505050" stroke-width="0.8"/>
<text x="225.00" y="386.00" font-size="10.00" text-anchor="end" font-weight="bold" font-style="normal" fill="#111">40</text>
<line x1="226.30" y1="365.90" x2="227.80" y2="365.90" stroke="#505050" stroke-width="0.8"/>
<text x="225.00" y="367.00" font-size="10.00" text-anchor="end" font-weight="bold" font-style="normal" fill="#111">60</text>
<line x1="226.30" y1="345.90" x2="227.80" y2="345.90" stroke="#505050" stroke-width="0.8"/>
<text x="225.00" y="347.00" font-size="10.00" text-anchor="end" font-weight="bold" font-style="normal" fill="#111">80</text>
<line x1="367.50" y1="421.30" x2="366.00" y2="421.30" stroke="#505050" stroke-width="0.8"/>
<text x="369.50" y="422.20" font-size="10.00" text-anchor="start" font-weight="bold" font-style="normal" fill="#111">0</text>
<line x1="367.50" y1="391.30" x2="366.00" y2="391.30" stroke="#505050" stroke-width="0.8"/>
<text x="369.50" y="392.20" font-size="10.00" text-anchor="start" font-weight="bold" font-style="normal" fill="#111">2</text>
<line x1="367.50" y1="358.90" x2="366.00" y2="358.90" stroke="#505050" stroke-width="0.8"/>
<text x="369.50" y="359.80" font-size="10.00" text-anchor="start" font-weight="bold" font-style="normal" fill="#111">4</text>
<line x1="367.50" y1="330.70" x2="366.00" y2="330.70" stroke="#505050" stroke-width="0.8"/>
<text x="369.50" y="331.60" font-size="10.00" text-anchor="start" font-weight="bold" font-style="normal" fill="#111">6</text>
<text x="202.90" y="332.10" font-size="10.00" text-anchor="start" font-weight="bold" font-style="normal" fill="#111">(i)</text>
<text x="212.20" y="373.55" font-size="10.50" text-anchor="middle" font-weight="bold" font-style="normal" fill="#111" transform="rotate(-90 212.20 373.55)" textLength="56.80" lengthAdjust="spacingAndGlyphs">Success Rate</text>
<text x="389.90" y="373.45" font-size="10.30" text-anchor="middle" font-weight="bold" font-style="normal" fill="#111" transform="rotate(-90 389.90 373.45)" textLength="33.50" lengthAdjust="spacingAndGlyphs">Time[s]</text>
<rect x="228.1" y="327.30" width="6.0" height="5.4" fill="#5293d6"/>
<path d="M231.10,327.90 L233.20,330.00 L231.10,332.10 L229.00,330.00 Z" fill="#1818a8"/>
<text x="235.90" y="332.70" font-size="7.70" text-anchor="start" font-weight="bold" font-style="normal" fill="#111" textLength="61.60" lengthAdjust="spacingAndGlyphs">0 nm, without DE</text>
<rect x="228.1" y="334.20" width="6.0" height="5.4" fill="#eb7a2e"/>
<path d="M231.10,334.80 L233.20,336.90 L231.10,339.00 L229.00,336.90 Z" fill="#e0101c"/>
<text x="235.90" y="339.60" font-size="7.70" text-anchor="start" font-weight="bold" font-style="normal" fill="#111" textLength="50.20" lengthAdjust="spacingAndGlyphs">0 nm, with DE</text>
<rect x="228.1" y="341.10" width="6.0" height="5.4" fill="#a6a6a6"/>
<path d="M231.10,341.70 L233.20,343.80 L231.10,345.90 L229.00,343.80 Z" fill="#404040"/>
<text x="235.90" y="346.50" font-size="7.70" text-anchor="start" font-weight="bold" font-style="normal" fill="#111" textLength="61.60" lengthAdjust="spacingAndGlyphs">1 nm, without DE</text>
<rect x="228.1" y="348.00" width="6.0" height="5.4" fill="#7cc144"/>
<path d="M231.10,348.60 L233.20,350.70 L231.10,352.80 L229.00,350.70 Z" fill="#0e7a40"/>
<text x="235.90" y="353.40" font-size="7.70" text-anchor="start" font-weight="bold" font-style="normal" fill="#111" textLength="50.20" lengthAdjust="spacingAndGlyphs">1 nm, with DE</text>
</g>
<g transform="matrix(1.00000 0 0 1 -0.000 0)">
<rect x="228.90" y="521.06" width="9.30" height="4.54" fill="#5293d6"/>
<rect x="239.75" y="487.33" width="9.30" height="38.27" fill="#eb7a2e"/>
<rect x="250.60" y="481.38" width="9.30" height="44.22" fill="#a6a6a6"/>
<rect x="261.45" y="473.49" width="9.30" height="52.11" fill="#7cc144"/>
<rect x="276.10" y="498.57" width="9.30" height="27.03" fill="#5293d6"/>
<rect x="286.95" y="460.30" width="9.30" height="65.30" fill="#eb7a2e"/>
<rect x="297.80" y="447.11" width="9.30" height="78.49" fill="#a6a6a6"/>
<rect x="308.65" y="444.52" width="9.30" height="81.08" fill="#7cc144"/>
<rect x="323.30" y="458.03" width="9.30" height="67.57" fill="#5293d6"/>
<rect x="334.15" y="451.22" width="9.30" height="74.38" fill="#eb7a2e"/>
<rect x="345.00" y="444.52" width="9.30" height="81.08" fill="#a6a6a6"/>
<rect x="355.85" y="444.52" width="9.30" height="81.08" fill="#7cc144"/>
<text x="233.55" y="514.10" font-size="7.80" text-anchor="middle" font-weight="bold" font-style="normal" fill="#111">29.2</text>
<text x="244.40" y="487.20" font-size="7.80" text-anchor="middle" font-weight="bold" font-style="normal" fill="#111">60.4</text>
<text x="255.25" y="481.10" font-size="7.80" text-anchor="middle" font-weight="bold" font-style="normal" fill="#111">65.9</text>
<text x="266.10" y="473.20" font-size="7.80" text-anchor="middle" font-weight="bold" font-style="normal" fill="#111">73.2</text>
<text x="280.75" y="498.20" font-size="7.80" text-anchor="middle" font-weight="bold" font-style="normal" fill="#111">50</text>
<text x="291.60" y="461.80" font-size="7.80" text-anchor="middle" font-weight="bold" font-style="normal" fill="#111">85.4</text>
<text x="302.45" y="452.70" font-size="7.80" text-anchor="middle" font-weight="bold" font-style="normal" fill="#111">97.6</text>
<text x="313.30" y="444.10" font-size="7.80" text-anchor="middle" font-weight="bold" font-style="normal" fill="#111">100</text>
<text x="327.95" y="457.20" font-size="7.80" text-anchor="middle" font-weight="bold" font-style="normal" fill="#111">87.5</text>
<text x="338.80" y="450.40" font-size="7.80" text-anchor="middle" font-weight="bold" font-style="normal" fill="#111">93.8</text>
<text x="349.65" y="444.10" font-size="7.80" text-anchor="middle" font-weight="bold" font-style="normal" fill="#111">100</text>
<text x="360.50" y="444.10" font-size="7.80" text-anchor="middle" font-weight="bold" font-style="normal" fill="#111">100</text>
<path d="M233.55,520.90 L235.85,523.20 L233.55,525.50 L231.25,523.20 Z" fill="#1818a8"/>
<text x="233.55" y="520.70" font-size="7.20" text-anchor="middle" font-weight="bold" font-style="italic" fill="#222">0.07</text>
<path d="M244.40,520.90 L246.70,523.20 L244.40,525.50 L242.10,523.20 Z" fill="#e0101c"/>
<text x="244.40" y="515.00" font-size="7.20" text-anchor="middle" font-weight="bold" font-style="italic" fill="#222">0.07</text>
<path d="M255.25,520.90 L257.55,523.20 L255.25,525.50 L252.95,523.20 Z" fill="#404040"/>
<text x="255.25" y="520.70" font-size="7.20" text-anchor="middle" font-weight="bold" font-style="italic" fill="#222">0.07</text>
<path d="M266.10,520.90 L268.40,523.20 L266.10,525.50 L263.80,523.20 Z" fill="#0e7a40"/>
<text x="266.10" y="515.00" font-size="7.20" text-anchor="middle" font-weight="bold" font-style="italic" fill="#222">0.07</text>
<path d="M280.75,517.70 L283.05,520.00 L280.75,522.30 L278.45,520.00 Z" fill="#1818a8"/>
<text x="280.75" y="518.00" font-size="7.20" text-anchor="middle" font-weight="bold" font-style="italic" fill="#222">0.17</text>
<path d="M291.60,518.20 L293.90,520.50 L291.60,522.80 L289.30,520.50 Z" fill="#e0101c"/>
<text x="291.60" y="519.10" font-size="7.20" text-anchor="middle" font-weight="bold" font-style="italic" fill="#222">0.15</text>
<path d="M302.45,518.20 L304.75,520.50 L302.45,522.80 L300.15,520.50 Z" fill="#404040"/>
<text x="302.45" y="513.40" font-size="7.20" text-anchor="middle" font-weight="bold" font-style="italic" fill="#222">0.15</text>
<path d="M313.30,518.20 L315.60,520.50 L313.30,522.80 L311.00,520.50 Z" fill="#0e7a40"/>
<text x="313.30" y="518.40" font-size="7.20" text-anchor="middle" font-weight="bold" font-style="italic" fill="#222">0.15</text>
<path d="M327.95,431.30 L330.25,433.60 L327.95,435.90 L325.65,433.60 Z" fill="#1818a8"/>
<text x="327.95" y="440.00" font-size="7.20" text-anchor="middle" font-weight="bold" font-style="italic" fill="#222">2.83</text>
<path d="M338.80,452.20 L341.10,454.50 L338.80,456.80 L336.50,454.50 Z" fill="#e0101c"/>
<text x="338.80" y="461.60" font-size="7.20" text-anchor="middle" font-weight="bold" font-style="italic" fill="#222">2.2</text>
<path d="M349.65,483.60 L351.95,485.90 L349.65,488.20 L347.35,485.90 Z" fill="#404040"/>
<text x="349.65" y="494.50" font-size="7.20" text-anchor="middle" font-weight="bold" font-style="italic" fill="#222">1.21</text>
<path d="M360.50,482.90 L362.80,485.20 L360.50,487.50 L358.20,485.20 Z" fill="#0e7a40"/>
<text x="360.50" y="482.00" font-size="7.20" text-anchor="middle" font-weight="bold" font-style="italic" fill="#222">1.24</text>
<rect x="226.30" y="428.30" width="141.20" height="97.30" fill="none" stroke="#505050" stroke-width="1.40"/>
<line x1="226.30" y1="525.80" x2="227.80" y2="525.80" stroke="#505050" stroke-width="0.8"/>
<text x="225.00" y="526.90" font-size="10.00" text-anchor="end" font-weight="bold" font-style="normal" fill="#111">25</text>
<line x1="226.30" y1="505.00" x2="227.80" y2="505.00" stroke="#505050" stroke-width="0.8"/>
<text x="225.00" y="506.10" font-size="10.00" text-anchor="end" font-weight="bold" font-style="normal" fill="#111">45</text>
<line x1="226.30" y1="484.20" x2="227.80" y2="484.20" stroke="#505050" stroke-width="0.8"/>
<text x="225.00" y="485.30" font-size="10.00" text-anchor="end" font-weight="bold" font-style="normal" fill="#111">65</text>
<line x1="226.30" y1="462.00" x2="227.80" y2="462.00" stroke="#505050" stroke-width="0.8"/>
<text x="225.00" y="463.10" font-size="10.00" text-anchor="end" font-weight="bold" font-style="normal" fill="#111">85</text>
<line x1="226.30" y1="439.30" x2="227.80" y2="439.30" stroke="#505050" stroke-width="0.8"/>
<text x="225.00" y="440.40" font-size="10.00" text-anchor="end" font-weight="bold" font-style="normal" fill="#111">105</text>
<line x1="367.50" y1="525.50" x2="366.00" y2="525.50" stroke="#505050" stroke-width="0.8"/>
<text x="369.50" y="526.40" font-size="10.00" text-anchor="start" font-weight="bold" font-style="normal" fill="#111">0</text>
<line x1="367.50" y1="494.30" x2="366.00" y2="494.30" stroke="#505050" stroke-width="0.8"/>
<text x="369.50" y="495.20" font-size="10.00" text-anchor="start" font-weight="bold" font-style="normal" fill="#111">1</text>
<line x1="367.50" y1="462.00" x2="366.00" y2="462.00" stroke="#505050" stroke-width="0.8"/>
<text x="369.50" y="462.90" font-size="10.00" text-anchor="start" font-weight="bold" font-style="normal" fill="#111">2</text>
<line x1="367.50" y1="434.10" x2="366.00" y2="434.10" stroke="#505050" stroke-width="0.8"/>
<text x="369.50" y="435.00" font-size="10.00" text-anchor="start" font-weight="bold" font-style="normal" fill="#111">3</text>
<text x="202.90" y="432.60" font-size="10.00" text-anchor="start" font-weight="bold" font-style="normal" fill="#111">(j)</text>
<text x="212.20" y="474.30" font-size="10.50" text-anchor="middle" font-weight="bold" font-style="normal" fill="#111" transform="rotate(-90 212.20 474.30)" textLength="56.80" lengthAdjust="spacingAndGlyphs">Success Rate</text>
<text x="389.90" y="474.20" font-size="10.30" text-anchor="middle" font-weight="bold" font-style="normal" fill="#111" transform="rotate(-90 389.90 474.20)" textLength="33.50" lengthAdjust="spacingAndGlyphs">Time[s]</text>
<rect x="228.1" y="430.60" width="6.0" height="5.4" fill="#5293d6"/>
<path d="M231.10,431.20 L233.20,433.30 L231.10,435.40 L229.00,433.30 Z" fill="#1818a8"/>
<text x="235.90" y="436.00" font-size="7.70" text-anchor="start" font-weight="bold" font-style="normal" fill="#111" textLength="61.60" lengthAdjust="spacingAndGlyphs">0 nm, without DE</text>
<rect x="228.1" y="437.50" width="6.0" height="5.4" fill="#eb7a2e"/>
<path d="M231.10,438.10 L233.20,440.20 L231.10,442.30 L229.00,440.20 Z" fill="#e0101c"/>
<text x="235.90" y="442.90" font-size="7.70" text-anchor="start" font-weight="bold" font-style="normal" fill="#111" textLength="50.20" lengthAdjust="spacingAndGlyphs">0 nm, with DE</text>
<rect x="228.1" y="444.40" width="6.0" height="5.4" fill="#a6a6a6"/>
<path d="M231.10,445.00 L233.20,447.10 L231.10,449.20 L229.00,447.10 Z" fill="#404040"/>
<text x="235.90" y="449.80" font-size="7.70" text-anchor="start" font-weight="bold" font-style="normal" fill="#111" textLength="61.60" lengthAdjust="spacingAndGlyphs">1 nm, without DE</text>
<rect x="228.1" y="451.30" width="6.0" height="5.4" fill="#7cc144"/>
<path d="M231.10,451.90 L233.20,454.00 L231.10,456.10 L229.00,454.00 Z" fill="#0e7a40"/>
<text x="235.90" y="456.70" font-size="7.70" text-anchor="start" font-weight="bold" font-style="normal" fill="#111" textLength="50.20" lengthAdjust="spacingAndGlyphs">1 nm, with DE</text>
</g>
<text x="249.50" y="534.00" font-size="10.00" text-anchor="middle" font-weight="bold" font-style="normal" fill="#111">RF</text>
<text x="297.20" y="534.00" font-size="10.00" text-anchor="middle" font-weight="bold" font-style="normal" fill="#111">DNN</text>
<text x="345.60" y="534.20" font-size="10.00" text-anchor="middle" font-weight="bold" font-style="normal" fill="#111" textLength="38.00" lengthAdjust="spacingAndGlyphs">DEDGO</text>
<text x="296.40" y="543.50" font-size="10.00" text-anchor="middle" font-weight="bold" font-style="normal" fill="#111" textLength="44.00" lengthAdjust="spacingAndGlyphs">Algorithm</text>
</svg>
</body></html>
